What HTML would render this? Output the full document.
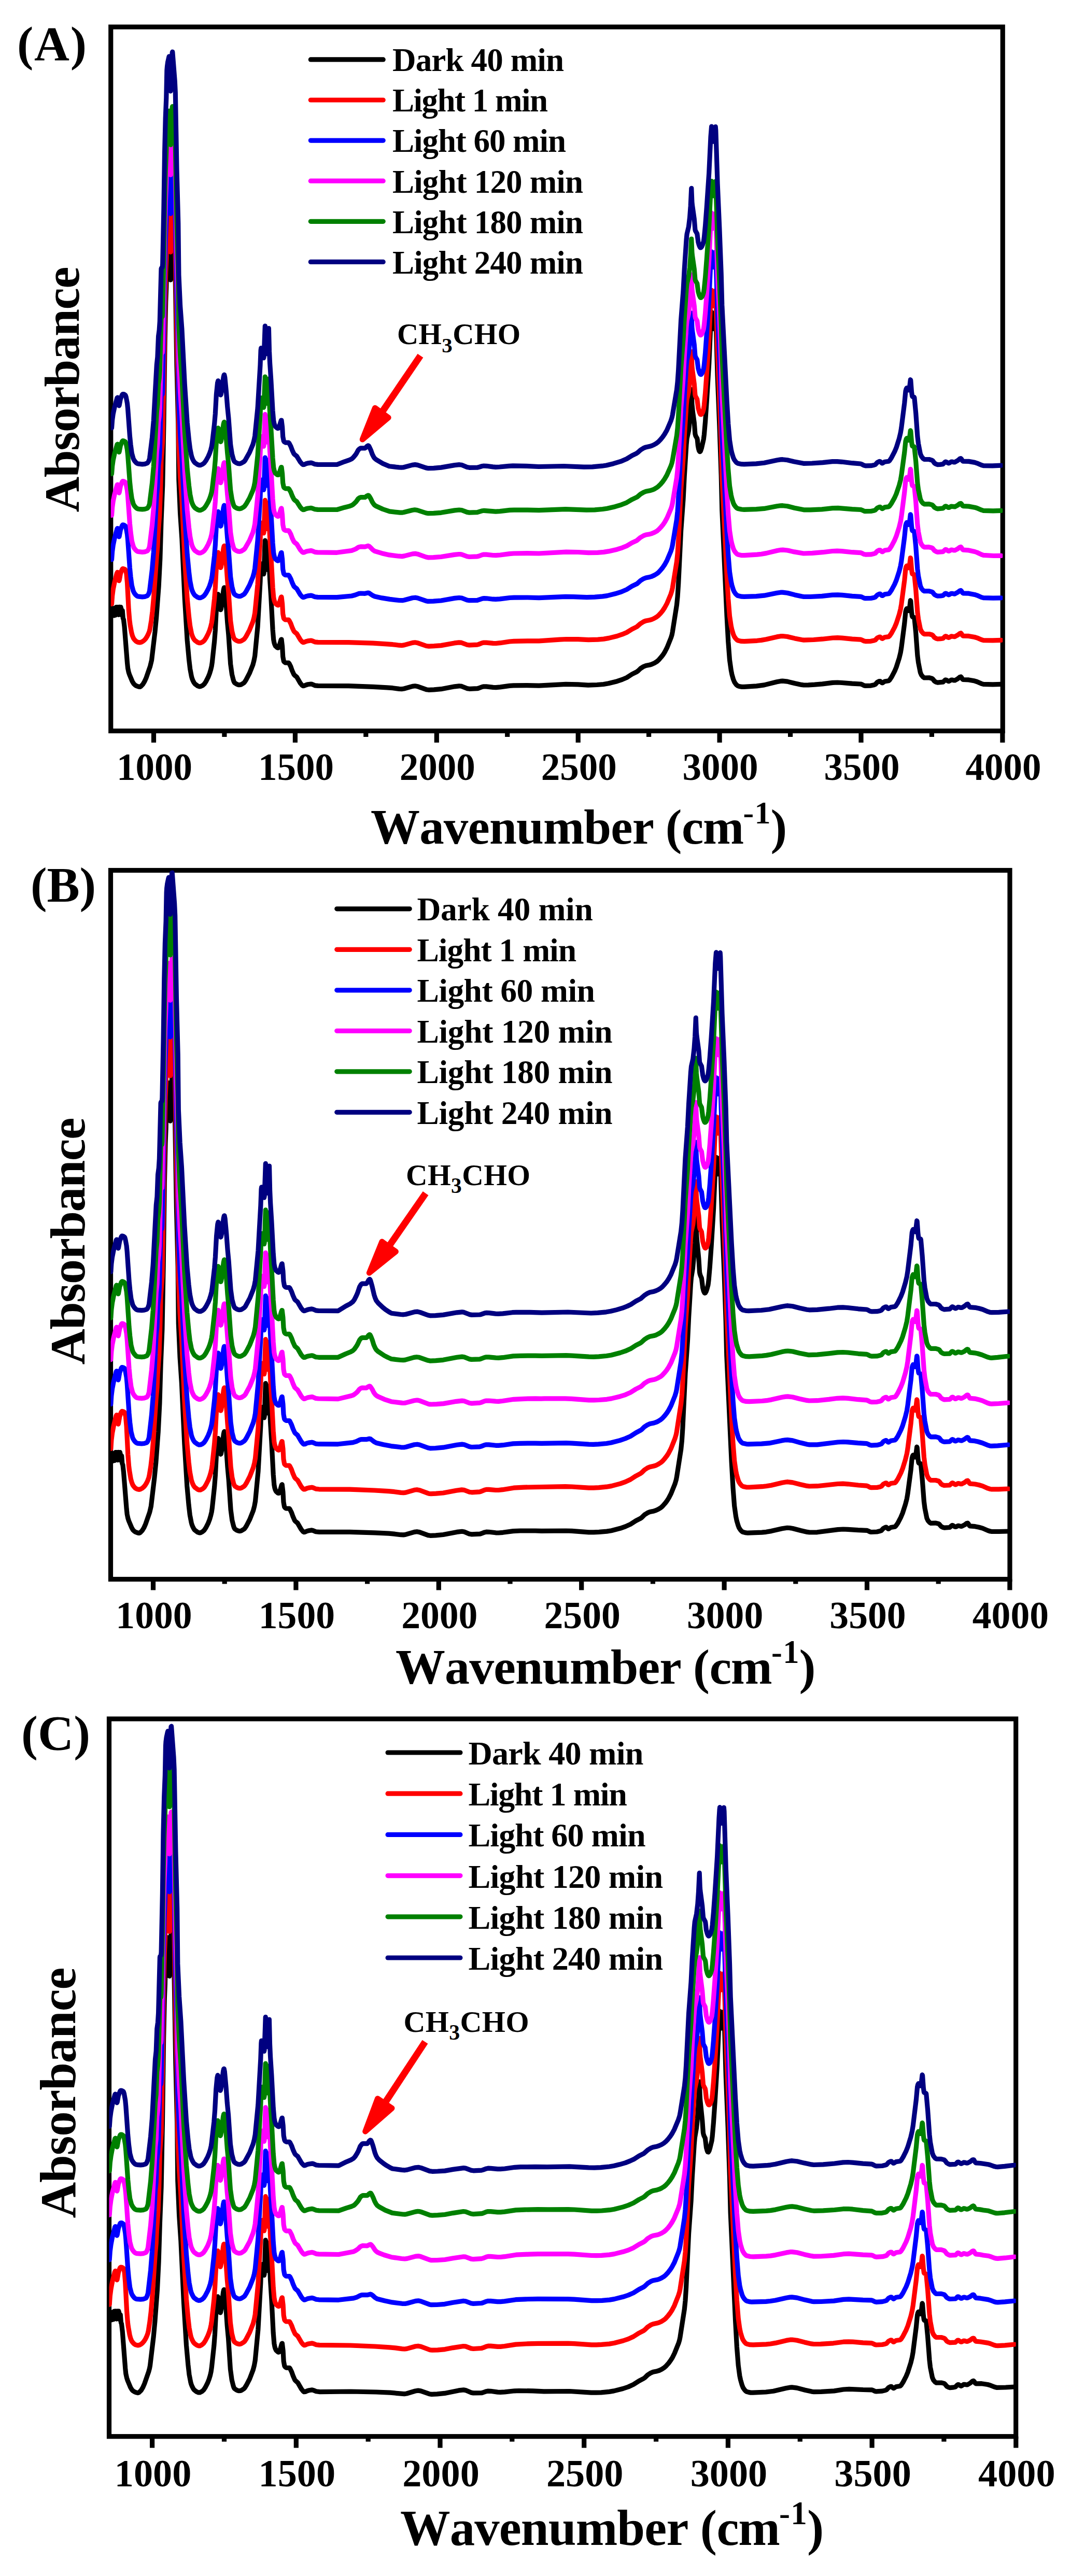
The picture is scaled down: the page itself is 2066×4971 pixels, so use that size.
<!DOCTYPE html><html><head><meta charset="utf-8"><title>FTIR spectra</title><style>html,body{margin:0;padding:0;background:#fff}svg{display:block}</style></head><body><svg width="2066" height="4971" viewBox="0 0 2066 4971">
<rect width="2066" height="4971" fill="#fff"/>
<rect x="213.75" y="52" width="1720.5" height="1358.5" fill="none" stroke="#000" stroke-width="9.2"/>
<clipPath id="clipA"><rect x="213.75" y="52" width="1720.5" height="1358.5"/></clipPath>
<g fill="none" stroke-width="9.2" stroke-linejoin="round" stroke-linecap="round" clip-path="url(#clipA)">
<path d="M215.5 1185.7l.5-.6 .6 .6 .5-.6 1.1-8.9 1.1 11.8 .6-.1 1.1-14.5 .5 1.6 1.1 12.2 1.1-12.9 .5-2.8 1.1 13.5 .6 .2 1.1-13.7 .5 2 1.1 12.8 1.1-12.4 .5-2.6 1.1 13.7 .6 .2 1.1-13.7 .5 2 1.1 13.6 1.1-9.3 .5 .4 1.1 14.6 1.1 2.8 1.7 14.2 5.4 69.3 1.1 10.4 1.6 7.7 1.7 5 5.4 12.9 2.8 4.6 2.2 2 2.1 1.5 3.9 1.6 2.7 .6 1.1 0 1.6-.9 3.8-3.9 3.3-5.4 3.3-7.4 7.6-22.1 2.8-11.5 6.5-55 2.7-28.3 4.4-58.7 2.7-53.7 2.2-73.3 2.7-68.2 2.2-119.4 2.2-159.9 1.6-75.2 1.1-28.1 1.1-57.9 .6-8 1.1-9 2.2-10.6 .5-1.6 .5 .5 1.7 62.8 .5 9.5 .6-5.6 .5-13.5 1.7-52.4 .5-9.9 .5-1 4.4 60.7 1.1 24 2.7 162.3 2.8 112.8 1.1 108.4 2.7 64.6 3.3 49 5.4 115.9 4.9 80.5 3.3 36.2 2.2 18.8 2.7 14.4 1.1 4 1.6 4 2.2 4.2 1.7 2.2 5.4 4 2.8 1.1 2.7-.1 3.8-1.8 3.3-2.8 3.3-4.9 4.3-8.5 2.7-6.8 2.2-7.2 1.7-7.1 1.1-7.2 4.3-40.3 1.7-21.6 2.1-41.9 2.2-23.3 1.1-4.6 .6 .8 1.1 6.9 2.1 19.1 .6 2.6 .5 .6 .6-1.1 1.1-5.5 3.8-31.3 1.1-4.6 .5-.4 1.1 5.8 2.7 30.7 2.2 30.9 2.2 24 3.8 56.2 2.8 20.1 2.7 10.9 1.1 3.1 1.1 1.9 3.8 2.7 2.7 1.1 2.2 .4 2.2-.1 2.2-.7 4.9-3 1.6-1.7 2.8-4.4 6.5-12.5 6.6-16.5 2.1-8.2 1.7-8.9 5.4-56.6 4.9-86.7 1.1-30.2 .6-4.3 1.6 .6 1.1 1 .6 1.4 1.6 17 .5-2.4 2.2-62.4 .6 2.9 2.7 53.3 .5-2.6 2.2-37 1.1-11.9 1.1 46.3 1.1 24.2 2.2 34.6 3.3 62 1.6 19.4 1.1 5.9 1.1 3.5 1.6 3.3 3.3 2.9 1.1 .4 1.1-.1 1.6-3.4 3.3-11.3 .5-1.4 .6-.2 1.6 13.8 1.1 19.4 1.6 8.8 1.1 1.6 1.7 1.3 1.1 .3 5.4 .1 1.1 1.1 3.3 6.5 2.7 7.7 3.3 7.2 1.1 1.3 4.4 3.6 7 12.1 3.3 3.8 1.7 1.2 2.1-.2 3.9-1.7 3.2-.9 6-.8 2.2 .4 5.5 2.4 6 .6 58.9 .2 47.5 1.7 26.8 1.5 10.9 .9 12.5 1.7 4.9 .2 4.4-.6 16.4-4.6 4.9-.6 5.5 1 16.3 5.9 4.4 .6 10.4-.4 13.6-1.2 26.2-4.9 8.7-.9 2.8 .1 2.2 .4 10.3 4.2 4.4 .7 15.3-.6 2.7-.7 6.6-2.5 3.2-.7 4.9 .1 13.1 1.5 5.5 .2 8.2-.7 18-2.5 7.6-.5 25.7-.3 23.5 .5 51.8-2.7 23.5 .5 19.6 1.2 16.9-.6 12.6-1 9.8-1.7 16.4-4.1 9.8-3.3 8.8-3.8 10.3-6.6 9.3-4.7 2.2-1.6 4.9-4.7 6-3.8 4.4-1.7 7.6-1.5 3.8-1.2 4.9-2.2 5-3.1 3.8-3.4 4.3-5 3.9-5 3.2-5.1 4.4-8.6 7.6-19 1.7-5.6 1.1-5.5 8.2-52.1 1.6-16.2 1.6-24.7 4.9-101.8 4.4-61 2.2-44.3 3.8-60.9 1.1-12 3.3-15 2.2-19.7 1.6-23.5 1.6-36.4 1.1 28.5 1.7 16.2 2.7 19.5 1.6 21.3 1.1 4.1 2.8 4.8 .5 2.6 1.1 11.5 1.1 5.7 1.1 3.7 1.1 1.9 .5 .2 .6-.3 .5-.7 2.2-6.5 3.8-16.8 1.1-8.9 2.2-25.3 2.7-39.7 4.4-71.8 3.3-77.5 1.6-21.9 .5 2 .6 5.1 2.2 24.7 .5 .5 .6-2.5 2.7-26.8 .5-2.3 .6 7.6 3.3 114.6 3.8 96.4 3.3 95.6 1.6 67.2 9.3 204.4 2.7 49.7 2.7 35 2.8 19.9 1.6 8 2.7 9.6 2.2 5.3 2.7 3.9 2.2 2.3 1.7 1.1 3.8 1.2 3.8 .6 4.4 0 24-1.5 14.7-2 24.6-6.2 7.1-1.3 3.8-.3 9.3 1 14.7 3.7 12.6 2.6 4.3 .6 8.8-.1 12-.7 15.2-1.3 19.7-2.5 9.3-.4 8.7 .5 19.7 1.7 16.3 .8 2.2 .7 4.4 2.2 2.7 .5 10.4-.3 6-1.3 2.7-1.2 3.8-4.2 3.9-1.9 1.6 0 3.3 3.1 1.1 .2 4.3-2.8 7.7-1.2 1.6-1.3 3.8-5.7 6-11.4 3.3-7.9 5.5-17.2 2.7-10.9 1.6-9.6 6-46.7 2.2-22.7 1.1-4.1 1.1-1.9 1.1 1 1.6 2.9 .6 .2 .5-.7 1.7-5.8 1.6-13.3 .5 1.2 1.7 21.8 1.1 7.6 .5 1 3.3 1.1 .5 1.2 2.8 28.7 3.2 43.8 1.7 13.6 3.8 19.2 2.2 4.9 3.3 3.9 2.1 1.3 9.3-.2 5.5 1.4 1.6 1.2 3.3 4.1 3.3 1.9 2.7 .8 10.4-1 3.8-3.7 1.1-.6 1.6 .3 2.7 1.9 1.7 .6 1.1-.3 3.8-2.3 1.6 0 3.8 .9 1.7-.1 5.4-3 3.9-3.2 2.1-.7 1.1 1 2.2 3.6 1.1 .9 10.9 .4 11.5 2.2 4.4 1.4 8.7 3.8 3.8 1.1 18 .4 16.4-.4" stroke="#000000"/>
<path d="M215.5 1165.6l1.1-15.5 1.6-12.5 2.8-13.9 4.3-17 1.1-2.3 .6-.1 2.1 15.3 .6 1.1 .5-1.3 2.2-12.1 2.2-6.3 1.1-2.4 1.1-1.2 2.2 .3 2.2 1.2 1 1.3 1.7 6.3 1.6 18.2 2.7 51.3 1.7 20.6 1.1 8.6 2.7 15.3 1.6 6 2.2 5.3 2.2 3 2.7 2.6 2.8 1.6 2.7 .7 2.2 .2 2.2-.6 3.2-1.6 2.8-2.2 2.7-3 2.7-4.2 2.2-4.4 2.2-5.5 1.1-4.7 2.7-16.3 2.2-17.9 2.7-30.2 5.5-77.4 1.6-17.9 1.1-23.4 2.7-35.9 1.7-42.2 1.6-63.3 2.7-37.8 2.2-112.5 2.2-147.4 1.6-66 1.1-25.4 1.1-55.7 .6-7.7 1.1-8.6 2.2-10.2 .5-1.5 .5 .4 1.7 60.4 .5 9.1 .6-5.4 .5-12.9 1.7-50.4 .5-9.5 .5-.9 4.4 58.3 1.1 23.1 2.7 156 2.8 108.4 1.1 104.2 2.7 62.1 3.3 47.1 5.4 111.4 4.9 77.5 3.3 34.8 2.2 18.1 2.7 13.8 1.1 3.8 1.6 3.9 2.2 4 1.7 2.1 5.4 3.9 2.8 1 2.7 0 3.8-1.8 3.3-2.7 3.3-4.9 4.3-8.3 2.7-6.6 2.2-7.1 1.7-7 1.1-7 4.3-39.6 1.7-21.2 2.1-41.1 2.2-22.9 1.1-4.5 .6 .8 1.1 6.8 2.1 18.7 .6 2.6 .5 .6 .6-1.1 1.1-5.5 3.8-30.7 1.1-4.4 .5-.4 1.1 5.7 2.7 30 2.2 30.3 2.2 23.6 3.8 55.2 2.8 19.7 2.7 10.7 1.1 3 1.1 1.9 3.8 2.6 2.7 1.1 2.2 .4 2.2-.1 2.2-.6 4.9-3 1.6-1.7 2.8-4.2 6.5-12.2 6.6-16.2 2.1-7.9 1.7-8.8 5.4-55.3 4.9-84.7 1.1-29.5 .6-4.3 1.6 .7 1.1 1 .6 1.3 1.6 16.7 .5-2.4 2.2-61 .6 2.8 2.7 52.2 .5-2.6 2.2-36.1 1.1-11.7 1.1 45.3 1.1 23.6 2.2 33.8 3.3 60.6 1.6 19 1.1 5.7 1.1 3.4 1.6 3.3 3.3 2.7 1.1 .5 1.1-.1 1.6-3.4 3.3-11 .5-1.4 .6-.1 1.6 13.4 1.1 19 1.6 8.6 1.1 1.6 1.7 1.2 1.1 .3 5.4 .1 1.1 1.1 3.3 6.3 2.7 7.5 3.3 7.1 1.1 1.3 4.4 3.5 7 11.8 3.3 3.7 1.7 1.2 2.1-.2 3.9-1.7 3.2-.8 6-.9 2.2 .5 5.5 2.3 6 .6 58.9 .2 47.5 1.6 26.8 1.6 10.9 .9 12.5 1.5 4.9 .3 4.4-.6 16.4-4.5 4.9-.6 5.5 1 16.3 5.7 4.9 .6 9.9-.4 13.6-1.1 25.7-4.7 8.7-1 4.9 .3 10.9 4 4.4 .7 15.3-.8 2.7-.7 6.6-2.6 3.2-.7 4.9 0 13.1 1.3 5.5 .1 8.2-.8 18-2.7 8.2-.6 26.2-.6 22.4 .1 39.8-2.8 13.1-.6 22.4 .1 20.2 1.1 18-.6 11.4-1 9.9-1.7 15.8-3.9 9.8-3.3 8.8-3.7 10.3-6.4 9.3-4.6 7.1-6.2 6-3.7 4.4-1.7 7.6-1.4 3.8-1.1 4.4-2 4.9-2.9 3.3-2.6 4.4-4.6 3.8-4.7 3.8-5.7 4.4-8 7.6-18.2 2.2-7 1.1-5.4 8.2-50.8 1.6-15.8 1.6-24 4.9-99.3 4.4-59.4 2.2-43.3 3.8-59.3 1.1-11.7 3.3-14.6 2.2-19.2 1.6-23 1.6-35.4 1.1 27.8 .6 6.3 3.8 28.4 1.6 20.8 .6 2.6 3.3 6.1 2.1 17.1 2.2 7.9 1.7 3.7 .5 .6 1.1 .2 1.6-1.5 1.7-3.4 1.6-5.4 1.1-8.2 2.2-23.7 2.7-37.2 4.4-67.3 3.3-72.6 1.6-20.5 .5 1.9 .6 4.8 2.2 23 .5 .5 .6-2.3 2.7-25.1 .5-2.2 .6 7.2 3.3 107.3 3.8 90.4 3.3 89.5 1.6 63 9.3 191.4 2.7 46.5 2.7 32.9 2.8 18.6 1.6 7.5 2.7 9 1.7 4 2.7 4 2.7 2.8 2.2 1.2 6 1.3 6 .2 24.6-1.3 8.2-.9 9.2-1.6 20.8-4.9 7.1-1.2 3.8-.2 9.3 1 14.2 3.4 13.1 2.6 4.3 .6 19.1-.6 16.9-1.3 19.7-2.2 9.3-.3 8.7 .5 19.7 2 16.3 1 2.2 .7 4.4 2.1 2.7 .6 10.4-.3 6-1.2 2.7-1.1 3.8-4.1 3.9-1.8 1.6 0 3.3 3 1.1 .3 4.3-2.7 7.7-1.1 1.6-1.3 3.8-5.5 6-11.2 3.3-7.7 5.5-16.9 2.7-10.7 1.6-9.4 6-45.9 2.2-22.2 1.1-4.1 1.1-1.8 1.1 .9 1.6 2.9 .6 .2 .5-.6 1.7-5.8 1.6-13 .5 1.1 1.7 21.5 1.1 7.6 .5 1 3.3 1 .5 1.2 2.8 28.3 3.2 43.1 1.7 13.4 3.8 18.9 2.2 4.9 3.3 3.8 2.1 1.3 9.3-.1 5.5 1.5 1.6 1.1 3.3 4.2 3.3 1.8 2.7 .9 5.4-.3 5-.7 3.8-3.7 1.1-.6 1.6 .3 2.7 1.9 1.7 .5 1.1-.3 3.8-2.2 1.6 0 3.8 .7 1.7 0 5.4-3 3.9-3.1 2.1-.8 1.1 1 2.2 3.6 1.1 .8 10.9 .3 11.5 2.1 4.4 1.3 8.7 3.7 3.8 1.1 18 .3 16.4-.5" stroke="#ff0000"/>
<path d="M215.5 1079.9l1.1-15.3 1.6-12.2 2.8-13.7 4.9-18.2 .5-.8 .6 0 2.1 15 .6 1.1 .5-1.3 2.2-11.9 3.3-8.5 1.1-1.2 1.1 0 1.6 .5 2.2 1.4 .5 .8 1.1 3.4 2.2 12.1 1.1 11.1 3.8 53.9 1.7 17.2 2.2 16.7 2.7 10.2 1.1 2.5 1.6 2.6 2.2 2.8 2.2 1.9 1.6 .8 2.2 .4 6.5 .6 5-.5 4.9-1.6 2.2-3.2 1.6-4.3 .5-2.4 4.9-41 2.8-33 6-111.1 1.6-15.3 1.7-41.3 1.6-12.2 1.1-17.3 2.7-104 .6-1.8 1.6-1.9 .5-6.1 2.2-108.3 1.7-113.2 1.6-67.1 1.6-40.4 1.1-54.7 .6-7.5 1.1-8.5 2.2-10 .5-1.5 .5 .4 1.7 59.3 .5 9 .6-5.3 .5-12.7 1.7-49.5 .5-9.4 .5-.9 4.4 57.3 1.1 22.7 2.7 153.4 2.8 106.5 1.1 102.4 2.7 61.1 3.3 46.3 5.4 109.4 4.9 76.2 3.3 34.1 2.2 17.8 2.7 13.6 1.1 3.8 1.6 3.8 2.2 3.9 1.7 2.1 5.4 3.8 2.8 1 2.7-.1 3.8-1.7 3.3-2.6 3.3-4.6 4.3-7.9 2.7-6.3 2.2-6.8 1.7-6.6 1.1-6.7 4.3-37.7 1.7-20.3 2.1-39 2.2-21.8 1.1-4.3 .6 .7 1.1 6.5 2.1 17.8 .6 2.4 .5 .6 .6-1 1.1-5.2 3.8-29.3 1.1-4.2 .5-.4 1.1 5.4 2.7 28.7 2.2 28.8 2.2 22.5 3.8 52.5 2.8 18.8 2.7 10.2 1.1 2.9 1.1 1.8 3.8 2.5 2.7 1 2.2 .4 2.2-.1 2.2-.7 4.9-2.9 1.6-1.6 2.8-4.2 6.5-12 6.6-15.9 2.1-7.8 1.7-8.7 5.4-54.3 4.9-83.3 1.1-29 .6-4.2 1.6 .6 1.1 1 .6 1.3 1.6 16.4 .5-2.3 2.2-60 .6 2.8 2.7 51.2 .5-2.5 2.2-35.5 1.1-11.5 1.1 44.5 1.1 23.3 2.2 33.2 3.3 59.6 1.6 18.6 1.1 5.6 1.1 3.5 1.6 3.1 3.3 2.8 1.1 .4 1.1-.1 1.6-3.3 3.3-10.8 .5-1.4 .6-.2 1.6 13.2 1.1 18.8 1.6 8.4 1.1 1.5 1.7 1.2 1.1 .3 5.4 .2 1.1 1 3.3 6.2 2.7 7.4 3.3 7 1.1 1.2 4.4 3.5 7 11.6 3.3 3.7 1.7 1.1 2.1-.2 3.9-1.7 3.2-.8 6-.8 2.2 .4 5.5 2.3 5.4 .6 37.2 .2 28.3-2.6 6.6-1.7 6-2.4 2.2-.6 2.7-.3 8.2 .3 6-1.2 2.2 .5 6.5 4.4 4.4 2 13.6 2.9 15.3 2.5 18 2.1 6 .2 3.9-.7 15.8-4.2 5.4-.6 4.4 .8 16.4 5.7 3.8 .7 10.4-.2 14.7-1.2 26.2-4.6 8.7-.9 5 .5 10.3 4 4.4 .7 15.3-.4 9.8-3.2 3.3-.5 4.9 .2 12 1.4 5.5 .2 8.1-.5 19.1-2.4 8.2-.4 26.2-.1 21.9 .6 51.3-2.3 15.2 .3 25.7 1.1 15.3-.5 15.3-1.3 8.7-1.3 15.3-3.8 12-3.7 10.4-4.5 10.3-6.4 8.8-4.3 2.1-1.5 5.5-5 6-3.7 4.4-1.7 7.6-1.6 3.8-1.1 4.4-2 4.9-2.9 3.3-2.6 4.4-4.7 3.8-4.6 3.8-5.6 4.4-7.9 7.6-18 2.2-6.9 1.1-5.3 8.2-49.9 1.6-15.5 1.6-23.6 4.9-97.5 4.4-58.4 2.2-42.4 3.8-58.3 1.1-11.5 3.3-14.3 2.2-18.9 1.6-22.6 1.6-34.8 1.1 27.3 .6 6.2 3.8 27.8 1.6 20.4 .6 2.6 3.3 5.8 2.1 16.8 2.2 7.7 1.7 3.4 .5 .5 1.1 0 1.6-1.8 1.7-3.6 1.6-5.4 1.1-8.1 2.2-23.3 2.7-36.7 4.4-66.2 3.3-71.4 1.6-20.2 .5 1.8 .6 4.7 2.2 22.7 .5 .5 .6-2.4 2.7-24.7 .5-2.1 .6 7.1 3.3 105.4 3.8 88.8 3.3 88 1.6 61.9 9.3 188.1 2.7 45.7 2.7 32.3 2.8 18.3 1.6 7.3 2.7 8.8 1.7 3.9 2.7 3.9 2.2 2.2 2.2 1.5 7.1 1.6 4.9 .2 23.4-.7 15.3-1.5 24.6-4.9 7.1-1.1 3.8-.1 9.3 1.2 14.2 3.6 13.1 2.9 4.3 .7 12.6 0 22.4-1.1 20.2-2.3 10.3-.3 8.8 .6 19.1 1.9 16.3 1 2.2 .7 4.4 2.2 2.7 .5 10.4-.2 6-1.2 2.7-1.1 3.8-4.1 3.9-1.9 1.6 0 3.3 3.1 1.1 .2 4.3-2.7 7.7-1.1 1.6-1.2 3.8-5.6 6-11.3 3.3-7.7 5.5-17 2.7-10.8 1.6-9.4 6-46.1 2.2-22.4 1.1-4.1 1.1-1.8 1.1 1 1.6 2.8 .6 .3 .5-.7 1.7-5.7 1.6-13.2 .5 1.2 1.7 21.6 1.1 7.6 .5 1 3.3 1 .5 1.3 2.8 28.4 3.2 43.3 1.7 13.5 3.8 19 2.2 4.9 3.3 3.9 2.1 1.2 9.3 0 5.5 1.4 1.6 1.2 3.3 4.2 3.3 1.8 2.7 .8 6-.2 4.4-.6 3.8-3.7 1.1-.6 1.6 .4 2.7 1.8 1.7 .6 1.1-.3 3.8-2.2 1.6 0 3.8 .8 1.7 0 5.4-3 3.9-3.1 2.1-.7 1.1 1 2.2 3.6 1.1 .9 10.9 .4 11.5 2.2 4.4 1.4 8.7 3.8 3.8 1.1 18.6 .5 15.8-.4" stroke="#0000ff"/>
<path d="M215.5 994.5l1.1-15 1.6-12.1 2.8-13.4 4.9-17.9 .5-.8 .6-.1 2.1 14.8 .6 1.1 .5-1.3 2.2-11.7 3.3-8.4 1.1-1.1 1.1 0 1.6 .5 2.2 1.3 .5 .8 1.1 3.4 2.2 11.9 1.1 10.9 3.8 53 1.7 17 2.2 16.5 2.7 9.9 1.1 2.6 1.6 2.5 2.2 2.7 2.2 1.9 1.6 .8 2.2 .4 6.5 .6 5-.5 4.9-1.6 2.2-3.1 1.6-4.2 .5-2.4 4.9-40.4 2.8-32.4 6-109.4 1.6-15 1.7-40.7 1.6-12 1.1-17 2.7-102.4 .6-1.9 1.6-1.8 .5-6 2.2-106.6 1.7-111.4 1.6-66.1 1.6-39.8 1.1-53.8 .6-7.5 1.1-8.3 2.2-9.9 .5-1.4 .5 .4 1.7 58.4 .5 8.8 .6-5.2 .5-12.5 1.7-48.7 .5-9.3 .5-.8 4.4 56.4 1.1 22.3 2.7 151 2.8 104.9 1.1 100.8 2.7 60.1 3.3 45.5 5.4 107.8 4.9 75 3.3 33.6 2.2 17.5 2.7 13.4 1.1 3.7 1.6 3.8 2.2 3.8 1.7 2.1 5.4 3.7 2.8 1 2.7-.1 3.8-1.7 3.3-2.5 3.3-4.5 4.3-7.8 2.7-6.2 2.2-6.5 1.7-6.5 1.1-6.6 4.3-36.9 1.7-19.8 2.1-38.2 2.2-21.4 1.1-4.2 .6 .7 1.1 6.4 2.1 17.4 .6 2.4 .5 .5 .6-.9 1.1-5.1 3.8-28.6 1.1-4.2 .5-.3 1.1 5.2 2.7 28 2.2 28.3 2.2 22 3.8 51.4 2.8 18.3 2.7 10 1.1 2.8 1.1 1.8 3.8 2.4 2.7 1.1 2.2 .4 2.2-.1 2.2-.7 4.9-3 2.2-2.3 8.7-15.2 6.6-15.7 2.1-7.8 1.7-8.5 5.4-53.7 4.9-82.3 1.1-28.7 .6-4.1 1.6 .6 1.1 1 .6 1.2 1.6 16.3 .5-2.3 2.2-59.3 .6 2.8 2.7 50.6 .5-2.5 2.2-35.1 1.1-11.4 1.1 44.1 1.1 22.9 2.2 32.9 3.3 58.8 1.6 18.5 1.1 5.5 1.1 3.4 1.6 3.1 3.3 2.7 1.1 .4 1.1-.1 1.6-3.2 3.3-10.7 .5-1.4 .6-.1 1.6 13 1.1 18.5 1.6 8.3 1.1 1.6 1.7 1.1 1.1 .4 5.4 .1 1.1 1 3.3 6.1 2.7 7.4 3.3 6.9 1.1 1.2 4.4 3.4 7 11.4 3.3 3.7 1.7 1.1 2.1-.2 3.9-1.6 3.2-.8 6-.9 2.2 .5 5.5 2.2 4.9 .5 37.7 .5 28.3-3.8 6.6-2.5 2.2-1.1 3.8-2.6 2.2-.9 2.7-.5 8.2 .3 6-1.8 2.2 .8 2.7 2.4 3.8 4.1 4.4 3 13.6 4 14.2 3.2 18.6 2.3 6 .4 4.4-.7 15.8-4 5.4-.5 4.4 .8 16.4 5.8 3.8 .8 10.4-.2 14.7-1.1 25.7-4.1 8.7-.9 2.7 0 2.8 .5 10.3 3.8 4.4 .7 15.3-.7 2.7-.6 6.6-2.4 3.2-.7 4.9 .1 13.1 1.3 5.5 .1 8.2-.6 18-2.4 8.2-.6 26.2-.3 22.4 .3 52.4-2.8 22.9 .3 20.2 1.2 17.4-.4 12-.9 9.3-1.5 16.4-3.7 9.8-3.1 8.8-3.6 10.3-6.1 9.3-4.3 7.1-6 6-3.5 4.4-1.6 7.6-1.3 3.8-1.1 4.9-2.1 5-2.8 3.8-3.3 4.3-4.6 3.9-4.7 3.2-4.9 4.4-8 7.6-17.9 1.7-5.3 1.1-5.2 8.2-49 1.6-15.3 1.6-23.2 4.9-96 4.4-57.5 2.2-41.8 3.8-57.4 1.1-11.3 3.3-14.1 2.2-18.6 1.6-22.2 1.6-34.3 1.1 26.9 .6 6.2 3.8 27.5 1.6 20.1 .6 2.6 3.3 5.8 2.1 16.6 1.7 5.9 1.6 3.9 1.1 1.1 .6 0 1.6-1.5 1.6-3.5 2.2-6.9 1.1-8.1 2.2-23.1 2.7-36.2 4.4-65.5 3.3-70.8 1.6-19.9 .5 1.8 .6 4.7 2.2 22.5 .5 .5 .6-2.3 2.7-24.5 .5-2.1 .6 7 3.3 104.6 3.8 88.1 3.3 87.3 1.6 61.4 9.3 186.7 2.7 45.3 2.7 32.1 2.8 18.1 1.6 7.3 2.7 8.8 1.7 3.9 2.7 3.9 2.7 2.8 2.2 1.2 6 1.3 6 .1 24.6-1.6 8.2-.9 9.2-1.6 21.3-5.1 7.1-1.2 3.8-.2 8.8 .9 13.1 2.9 18 3.1 16.9-.6 20.2-1.7 18.6-2.2 9.2-.4 9.3 .5 20.2 2.1 15.8 .9 2.2 .8 4.4 2.2 2.7 .5 10.4-.2 6-1.3 2.7-1.1 3.8-4.1 3.9-1.9 1.6 0 3.3 3.1 1.1 .2 4.3-2.8 7.7-1.1 1.6-1.3 3.8-5.7 6-11.4 3.3-7.9 5.5-17.2 2.7-11 1.6-9.6 6-46.9 2.2-22.8 1.1-4.2 1.1-1.8 1.1 .9 1.6 3 .6 .2 .5-.6 1.7-5.9 1.6-13.4 .5 1.2 1.7 22 1.1 7.7 .5 1 3.3 1.1 .5 1.2 2.8 28.9 3.2 44.1 1.7 13.8 3.8 19.3 2.2 5 3.3 3.9 2.1 1.3 8.8-.1 5.4 1.3 1.7 .8 3.8 4.8 3.8 2.2 2.7 .6 9.9-.8 3.8-3.6 1.1-.6 1.6 .4 2.7 2 1.7 .6 1.1-.2 3.8-2.2 1.6 .1 3.8 .9 1.7 0 5.4-2.8 3.9-3.1 2.1-.6 1.1 1 2.2 3.7 1.1 1 10.9 .7 11.5 2.6 4.4 1.5 8.7 4.1 3.8 1.3 19.7 1.1 14.7-.1" stroke="#ff00ff"/>
<path d="M215.5 914.4l1.1-14.5 1.6-11.6 2.8-13 4.9-17.3 .5-.8 .6-.1 2.1 14.3 .6 1.1 .5-1.3 2.2-11.3 3.3-8.1 1.1-1.1 1.1 0 1.6 .5 2.2 1.3 .5 .7 1.1 3.3 2.2 11.5 1.1 10.5 3.8 51.3 1.7 16.4 2.2 15.9 2.7 9.7 1.1 2.4 1.6 2.5 2.2 2.6 2.2 1.8 1.6 .8 2.2 .4 6.5 .5 5-.5 4.9-1.5 2.2-3 1.6-4.1 .5-2.3 4.9-39 2.8-31.3 6-105.8 1.6-14.5 1.7-39.3 1.6-11.6 1.1-16.4 2.7-99 .6-1.7 1.6-1.8 .5-5.8 2.2-103.1 1.7-107.6 1.6-63.9 1.6-38.5 1.1-51.9 .6-7.2 1.1-8.1 2.2-9.5 .5-1.4 .5 .3 1.7 56.5 .5 8.6 .6-5.1 .5-12.1 1.7-47.1 .5-8.9 .5-.9 4.4 54.6 1.1 21.6 2.7 145.8 2.8 101.4 1.1 97.4 2.7 58.1 3.3 44 5.4 104.2 4.9 72.4 3.3 32.5 2.2 16.9 2.7 13 1.1 3.5 1.6 3.7 2.2 3.7 1.7 2 5.4 3.6 2.8 .9 2.7 0 3.8-1.7 3.3-2.4 3.3-4.4 4.3-7.6 2.7-6 2.2-6.4 1.7-6.4 1.1-6.4 4.3-36 1.7-19.3 2.1-37.2 2.2-20.8 1.1-4.1 .6 .7 1.1 6.1 2.1 17.1 .6 2.3 .5 .5 .6-.9 1.1-5 3.8-27.9 1.1-4.1 .5-.3 1.1 5.1 2.7 27.4 2.2 27.5 2.2 21.5 3.8 50.1 2.8 17.8 2.7 9.8 1.1 2.7 1.1 1.7 3.8 2.4 2.7 1 2.2 .4 2.2-.1 2.2-.7 4.9-2.8 1.6-1.5 2.8-4 6.5-11.4 6.6-15.1 2.1-7.5 1.7-8.2 5.4-51.7 4.9-79.3 1.1-27.6 .6-4 1.6 .6 1.1 .9 .6 1.2 1.6 15.7 .5-2.2 2.2-57.1 .6 2.6 2.7 48.8 .5-2.4 2.2-33.8 1.1-11 1.1 42.4 1.1 22.2 2.2 31.6 3.3 56.7 1.6 17.8 1.1 5.3 1.1 3.3 1.6 3 3.3 2.6 1.1 .4 1.1-.1 1.6-3.2 3.3-10.3 .5-1.3 .6-.1 1.6 12.5 1.1 17.9 1.6 8 1.1 1.5 1.7 1.1 1.1 .3 5.4 .1 1.1 1 3.3 5.9 2.7 7.1 3.3 6.6 1.1 1.2 4.4 3.3 7 11 3.3 3.5 1.7 1.1 2.1-.2 3.9-1.6 3.2-.8 6-.7 2.2 .4 5.5 2.1 5.4 .6 37.2 .1 14.7-4.3 9.3-2.3 4.3-1.6 2.8-1.7 3.8-3.5 2.2-2.2 3.8-5.4 2.2-1.7 2.7-1.2 8.2 .1 4.4-3.1 1.6-.7 1.1 .3 1.6 2 2.8 4.7 2.7 5.8 2.7 4.1 1.6 1.8 3.3 2.2 12.6 5.7 13.1 4.4 20.2 2.2 3.8 .1 2.7-.4 16.9-4.3 5-.7 4.9 .7 16.9 5.5 4.4 .7 10.3-.3 14.2-1.1 26.2-4.4 8.7-.9 5 .5 10.3 3.9 4.4 .7 15.3-.4 9.8-3 3.3-.4 22.4 1.8 8.1-.5 19.1-2.2 8.2-.3 26.2 0 21.9 .6 51.3-2 40.4 1.5 15.8-.4 15.3-1.3 8.7-1.3 15.3-3.5 12-3.6 10.4-4.2 10.3-6.1 8.8-4.1 2.1-1.4 5.5-4.8 6-3.5 4.4-1.7 7.6-1.5 3.8-1.1 4.4-1.8 4.9-2.8 3.3-2.5 4.4-4.4 3.8-4.5 3.8-5.3 4.4-7.5 7.6-17.2 2.2-6.6 1.1-5 8.2-47.7 1.6-14.7 1.6-22.6 4.9-92.9 4.4-55.7 2.2-40.5 3.8-55.6 1.1-11 3.3-13.7 2.2-18 1.6-21.5 1.6-33.2 1.1 26 .6 6 3.8 26.5 1.6 19.4 .6 2.5 3.3 5.6 2.1 16 2.2 7.3 1.7 3.4 .5 .6 1.1 .1 1.6-1.5 1.7-3.3 1.6-5 1.1-7.7 2.2-22.2 2.7-34.9 4.4-63.1 3.3-68 1.6-19.2 .5 1.7 .6 4.5 2.2 21.6 .5 .5 .6-2.3 2.7-23.5 .5-2 .6 6.7 3.3 100.4 3.8 84.6 3.3 83.8 1.6 58.9 9.3 179.2 2.7 43.4 2.7 30.8 2.8 17.4 1.6 7 2.7 8.4 1.7 3.7 2.7 3.7 2.2 2.2 2.2 1.3 7.1 1.5 4.9 .3 23.4-.6 15.3-1.3 24.6-4.7 7.1-.9 3.8-.1 9.3 1.1 13.6 3.4 18 3.6 12.6 .1 22.4-1 20.7-2.3 10.4-.3 27.3 2.3 16.3 .9 2.2 .6 4.4 2.1 2.2 .5 10.9-.2 6-1.2 2.7-1.1 3.8-4 4.4-1.9 1.1 .1 3.3 3 1.1 .2 4.3-2.7 7.7-1 1.6-1.2 3.8-5.4 6-10.8 3.3-7.5 5.5-16.3 2.7-10.4 1.6-9 6-44.4 2.2-21.5 1.1-3.9 1.1-1.8 1.1 1 1.6 2.7 .6 .2 .5-.6 1.7-5.5 1.6-12.7 .5 1.2 1.7 20.7 1.1 7.3 .5 .9 3.3 1 .5 1.2 2.8 27.3 3.2 41.6 1.7 13 3.8 18.2 2.2 4.7 3.3 3.7 2.1 1.2 9.3-.1 5.5 1.4 1.6 1.1 3.3 4 3.3 1.8 2.7 .8 10.4-.9 3.8-3.5 1.1-.6 1.6 .4 2.7 1.8 1.7 .5 1.1-.3 3.8-2.1 7.1 .8 5.4-2.9 3.9-3 2.1-.6 1.1 .9 2.2 3.5 1.1 .8 10.9 .5 11.5 2.1 4.4 1.3 8.7 3.7 3.8 1.1 18.6 .5 15.8-.4" stroke="#008000"/>
<path d="M215.5 825.8l1.1-14.9 1.6-11.9 2.8-13.3 4.9-17.7 .5-.8 .6-.1 2.1 14.7 .6 1.1 .5-1.3 2.2-11.6 3.3-8.3 1.1-1.1 1.1-.1 1.6 .5 2.2 1.4 .5 .8 1.1 3.3 2.2 11.8 1.1 10.8 3.8 52.4 1.7 16.8 2.2 16.3 2.7 9.9 1.1 2.5 1.6 2.5 2.2 2.7 2.2 1.9 1.6 .7 2.2 .4 6.5 .6 5-.5 4.9-1.6 2.2-3.1 1.6-4.1 .5-2.4 4.9-39.9 2.8-32.1 6-108.2 1.6-14.9 1.7-40.2 1.6-11.9 1.1-16.8 2.7-101.3 .6-1.8 1.6-1.8 .5-5.9 2.2-105.5 1.7-110.2 1.6-65.4 1.6-39.3 1.1-53.2 .6-7.4 1.1-8.3 2.2-9.7 .5-1.5 .5 .4 1.7 57.8 .5 8.8 .6-5.2 .5-12.3 1.7-48.3 .5-9.1 .5-.9 4.4 55.8 1.1 22.1 2.7 149.3 2.8 103.8 1.1 99.7 2.7 59.4 3.3 45.1 5.4 106.6 4.9 74.1 3.3 33.3 2.2 17.3 2.7 13.3 1.1 3.6 1.6 3.8 2.2 3.8 1.7 2 5.4 3.7 2.8 1 2.7-.1 3.8-1.7 3.3-2.5 3.3-4.5 4.3-7.8 2.7-6.2 2.2-6.5 1.7-6.5 1.1-6.6 4.3-36.9 1.7-19.8 2.1-38.2 2.2-21.4 1.1-4.2 .6 .7 1.1 6.4 2.1 17.4 .6 2.4 .5 .5 .6-.9 1.1-5.1 3.8-28.6 1.1-4.2 .5-.3 1.1 5.2 2.7 28 2.2 28.3 2.2 22 3.8 51.4 2.8 18.3 2.7 10 1.1 2.8 1.1 1.8 3.8 2.4 2.7 1.1 2.2 .4 2.2-.2 2.2-.7 4.9-2.9 2.2-2.3 8.7-15.4 6.6-15.7 2.1-7.8 1.7-8.5 5.4-54 4.9-82.6 1.1-28.9 .6-4.1 1.6 .6 1.1 1 .6 1.2 1.6 16.3 .5-2.2 2.2-59.6 .6 2.8 2.7 50.8 .5-2.4 2.2-35.3 1.1-11.4 1.1 44.2 1.1 23.1 2.2 32.9 3.3 59.1 1.6 18.6 1.1 5.5 1.1 3.4 1.6 3.2 3.3 2.7 1.1 .4 1.1-.1 1.6-3.3 3.3-10.7 .5-1.4 .6-.1 1.6 13.1 1.1 18.6 1.6 8.3 1.1 1.6 1.7 1.1 1.1 .4 5.4 .1 1.1 1 3.3 6.2 2.7 7.3 3.3 7 1.1 1.2 4.4 3.4 7 11.5 3.3 3.7 1.7 1.1 2.1-.2 3.9-1.6 3.2-.9 6-.8 2.2 .5 5.5 2.2 5.4 .6 37.2 .1 14.7-5.7 9.3-3.1 4.3-2.1 2.8-2.3 3.8-4.5 2.2-3 3.8-7.1 2.2-2.3 2.7-1.6 8.2 .1 1.6-1.2 2.8-2.9 1.6-1 1.1 .4 1.6 2.7 2.8 6.1 2.7 7.6 2.7 5.3 1.6 2.4 3.3 2.8 12.6 7.3 12.5 5.3 18.6 2.2 4.9 .3 3.3-.2 17.4-4.6 5.5-.8 4.9 .8 16.4 5.5 4.4 .8 10.3-.4 14.2-1.2 26.2-4.5 9.3-.9 4.4 .6 10.3 4.2 4.4 .8 15.3-.1 2.7-.6 6.6-2.1 3.2-.5 5.5 .3 12 1.6 5.5 .4 7.6-.3 17.5-1.7 8.1-.4 26.2 .5 23.5 1.1 48.6-1 38.7 1.7 16.4-.3 18.6-1.7 8.2-1.2 13.6-3.3 14.2-4.3 11.5-4.9 10.3-6.4 8.8-4.3 2.1-1.5 5.5-5 6-3.7 4.4-1.7 7.6-1.6 3.8-1.2 4.4-2 4.9-2.9 3.3-2.6 4.4-4.6 3.8-4.6 3.8-5.5 4.4-7.7 7.6-17.7 2.2-6.8 1.1-5.1 8.2-48.9 1.6-15.1 1.6-23.1 4.9-95.1 4.4-57 2.2-41.5 3.8-56.9 1.1-11.2 3.3-14 2.2-18.5 1.6-22 1.6-34 1.1 26.6 .6 6.1 3.8 27 1.6 19.9 .6 2.5 3.3 5.7 2.1 16.3 1.7 5.8 1.6 3.8 1.1 1 .6-.1 1.6-1.6 1.6-3.5 2.2-6.9 1.1-8 2.2-22.9 2.7-36 4.4-65 3.3-70.1 1.6-19.8 .5 1.8 .6 4.6 2.2 22.2 .5 .4 .6-2.3 2.7-24.3 .5-2 .6 6.9 3.3 103.3 3.8 87.1 3.3 86.2 1.6 60.7 9.3 184.4 2.7 44.7 2.7 31.6 2.8 17.9 1.6 7.2 2.7 8.6 1.7 3.8 2.7 3.8 2.2 2.2 2.2 1.3 7.1 1.5 4.9 .1 23.4-.9 15.3-1.7 24.6-5.2 7.1-1.1 3.8-.2 9.3 1.1 12.5 3 18.6 3.5 16.4-.3 20.7-1.4 18.6-1.9 9.2-.1 9.3 .7 20.2 2.4 15.8 1.3 2.2 .8 4.4 2.3 2.7 .7 10.4-.1 6-1.2 2.7-1 3.8-4.2 3.9-1.9 1.6 .1 3.3 3.2 1.1 .3 4.3-2.8 7.7-.9 1.6-1.3 3.8-5.8 6-11.5 3.3-7.9 5.5-17.5 2.7-11.1 1.6-9.7 6-47.7 2.2-23.1 1.1-4.2 1.1-1.9 1.1 1.1 1.6 2.9 .6 .3 .5-.6 1.7-6 1.6-13.6 .5 1.3 1.7 22.3 1.1 7.9 .5 1.1 3.3 1.1 .5 1.3 2.8 29.5 3.2 44.9 1.7 14 3.8 19.7 2.2 5.1 3.3 4.1 2.1 1.4 9.3 .1 5.5 1.6 1.6 1.2 3.3 4.4 3.3 2 2.7 .9 4.9-.2 5.5-.8 3.8-3.9 1.1-.6 1.6 .3 2.7 1.9 1.7 .5 1.1-.3 3.8-2.4 1.6 0 3.8 .8 1.7-.1 5.4-3.1 3.9-3.3 2.1-.8 1.1 1 2.2 3.7 1.1 .9 10.9 .2 11.5 2 4.4 1.4 8.7 3.7 3.8 1.1 17.5 .2 16.9-.7" stroke="#000080"/>
</g>
<rect x="291.9" y="1410.5" width="9.2" height="22.5" fill="#000"/>
<text x="298.0" y="1504.5" font-size="73" text-anchor="middle" font-family="Liberation Serif, serif" font-weight="bold" style="font-kerning:none">1000</text>
<rect x="564.8" y="1410.5" width="9.2" height="22.5" fill="#000"/>
<text x="570.9" y="1504.5" font-size="73" text-anchor="middle" font-family="Liberation Serif, serif" font-weight="bold" style="font-kerning:none">1500</text>
<rect x="837.7" y="1410.5" width="9.2" height="22.5" fill="#000"/>
<text x="843.8" y="1504.5" font-size="73" text-anchor="middle" font-family="Liberation Serif, serif" font-weight="bold" style="font-kerning:none">2000</text>
<rect x="1110.6" y="1410.5" width="9.2" height="22.5" fill="#000"/>
<text x="1116.7" y="1504.5" font-size="73" text-anchor="middle" font-family="Liberation Serif, serif" font-weight="bold" style="font-kerning:none">2500</text>
<rect x="1383.5" y="1410.5" width="9.2" height="22.5" fill="#000"/>
<text x="1389.6" y="1504.5" font-size="73" text-anchor="middle" font-family="Liberation Serif, serif" font-weight="bold" style="font-kerning:none">3000</text>
<rect x="1656.4" y="1410.5" width="9.2" height="22.5" fill="#000"/>
<text x="1662.5" y="1504.5" font-size="73" text-anchor="middle" font-family="Liberation Serif, serif" font-weight="bold" style="font-kerning:none">3500</text>
<rect x="1929.3" y="1410.5" width="9.2" height="22.5" fill="#000"/>
<text x="1935.4" y="1504.5" font-size="73" text-anchor="middle" font-family="Liberation Serif, serif" font-weight="bold" style="font-kerning:none">4000</text>
<rect x="428.3" y="1410.5" width="9.2" height="11.5" fill="#000"/>
<rect x="701.2" y="1410.5" width="9.2" height="11.5" fill="#000"/>
<rect x="974.1" y="1410.5" width="9.2" height="11.5" fill="#000"/>
<rect x="1247.0" y="1410.5" width="9.2" height="11.5" fill="#000"/>
<rect x="1520.0" y="1410.5" width="9.2" height="11.5" fill="#000"/>
<rect x="1792.8" y="1410.5" width="9.2" height="11.5" fill="#000"/>
<text x="715.0" y="1628.4" font-size="95.0" font-family="Liberation Serif, serif" font-weight="bold" style="font-kerning:none" textLength="546.8" lengthAdjust="spacing">Wavenumber</text>
<text x="1283.8 1315.0 1356.0" y="1628.4" font-size="95.0" font-family="Liberation Serif, serif" font-weight="bold" style="font-kerning:none">(cm</text>
<text x="1433.5" y="1588.8" font-size="62.0" font-family="Liberation Serif, serif" font-weight="bold" style="font-kerning:none" textLength="53.0" lengthAdjust="spacing">-1</text>
<text x="1486.5" y="1628.4" font-size="95.0" font-family="Liberation Serif, serif" font-weight="bold" style="font-kerning:none" textLength="31.6" lengthAdjust="spacing">)</text>
<text transform="translate(152.3,751.5) rotate(-90)" font-size="95" text-anchor="middle" font-family="Liberation Serif, serif" font-weight="bold" style="font-kerning:none" textLength="474" lengthAdjust="spacing">Absorbance</text>
<text x="33" y="116" font-size="94" font-family="Liberation Serif, serif" font-weight="bold" style="font-kerning:none" textLength="134" lengthAdjust="spacing">(A)</text>
<line x1="599.3" y1="114.9" x2="739.2" y2="114.9" stroke="#000000" stroke-width="9.2" stroke-linecap="round"/>
<text x="757" y="137.2" font-size="63" font-family="Liberation Serif, serif" font-weight="bold" style="font-kerning:none" textLength="331" lengthAdjust="spacing">Dark 40 min</text>
<line x1="599.3" y1="193.0" x2="739.2" y2="193.0" stroke="#ff0000" stroke-width="9.2" stroke-linecap="round"/>
<text x="757" y="215.3" font-size="63" font-family="Liberation Serif, serif" font-weight="bold" style="font-kerning:none" textLength="300" lengthAdjust="spacing">Light 1 min</text>
<line x1="599.3" y1="271.1" x2="739.2" y2="271.1" stroke="#0000ff" stroke-width="9.2" stroke-linecap="round"/>
<text x="757" y="293.4" font-size="63" font-family="Liberation Serif, serif" font-weight="bold" style="font-kerning:none" textLength="335" lengthAdjust="spacing">Light 60 min</text>
<line x1="599.3" y1="349.2" x2="739.2" y2="349.2" stroke="#ff00ff" stroke-width="9.2" stroke-linecap="round"/>
<text x="757" y="371.5" font-size="63" font-family="Liberation Serif, serif" font-weight="bold" style="font-kerning:none" textLength="368" lengthAdjust="spacing">Light 120 min</text>
<line x1="599.3" y1="427.3" x2="739.2" y2="427.3" stroke="#008000" stroke-width="9.2" stroke-linecap="round"/>
<text x="757" y="449.6" font-size="63" font-family="Liberation Serif, serif" font-weight="bold" style="font-kerning:none" textLength="368" lengthAdjust="spacing">Light 180 min</text>
<line x1="599.3" y1="505.4" x2="739.2" y2="505.4" stroke="#000080" stroke-width="9.2" stroke-linecap="round"/>
<text x="757" y="527.7" font-size="63" font-family="Liberation Serif, serif" font-weight="bold" style="font-kerning:none" textLength="368" lengthAdjust="spacing">Light 240 min</text>
<text x="766" y="664.4" font-size="57" font-family="Liberation Serif, serif" font-weight="bold" style="font-kerning:none" textLength="238" lengthAdjust="spacing">CH<tspan font-size="41.0" dy="15.4">3</tspan><tspan dy="-15.4">CHO</tspan></text>
<line x1="811" y1="686.4" x2="731.0" y2="804.0" stroke="#f00" stroke-width="13" stroke-linecap="butt"/>
<polygon points="699.2,848.1 723.4,787.3 749.2,805.9" fill="#f00" stroke="#f00" stroke-width="11" stroke-linejoin="round"/>
<rect x="213.5" y="1679.5" width="1734.5" height="1368.0" fill="none" stroke="#000" stroke-width="9.2"/>
<clipPath id="clipB"><rect x="213.5" y="1679.5" width="1734.5" height="1368.0"/></clipPath>
<g fill="none" stroke-width="9.2" stroke-linejoin="round" stroke-linecap="round" clip-path="url(#clipB)">
<path d="M213.8 2817.0l.5-.6 .6 .5 .5-.6 1.1-8.9 1.1 11.9 .6-.1 1.1-14.7 .5 1.7 1.1 12.3 1.1-13.1 .6-2.8 1.1 13.6 .5 .3 1.1-13.9 .6 2 1.1 13 1.1-12.6 .5-2.6 1.1 13.8 .6 .3 1.1-13.9 .5 2 1.1 13.8 1.1-9.5 .6 .4 1.1 14.8 1.1 2.9 1.6 14.3 5.6 70.3 1.1 10.5 1.6 7.7 1.7 5.2 5.5 13 2.7 4.7 2.2 2 2.2 1.5 3.9 1.6 2.7 .7 1.1-.1 1.7-.9 3.8-3.9 3.4-5.5 3.3-7.5 7.7-22.3 2.7-11.7 6.6-55.7 2.8-28.7 4.4-59.4 2.7-54.4 2.2-74.2 2.8-69.1 2.2-120.9 2.2-161.9 1.7-76.2 1.1-28.4 1.1-58.6 .5-8.2 1.1-9 2.2-10.8 .6-1.6 .5 .5 1.7 63.6 .5 9.6 .6-5.7 .5-13.6 1.7-53.1 .5-10 .6-1 4.4 61.4 1.1 24.4 2.7 164.3 2.8 114.2 1.1 109.7 2.8 65.5 3.3 49.6 5.5 117.3 4.9 81.6 3.3 36.6 2.2 19.1 2.8 14.6 1.1 4 1.6 4.1 2.2 4.2 1.7 2.2 5.5 4.1 2.8 1.1 2.7 0 3.9-1.9 3.3-2.9 3.3-5 4.4-8.7 2.7-6.9 2.2-7.4 1.7-7.3 1.1-7.3 4.4-41.3 1.7-22.1 2.2-42.8 2.2-23.9 1.1-4.7 .5 .8 1.1 7.1 2.2 19.5 .6 2.7 .5 .6 .6-1.1 1.1-5.7 3.8-32 1.1-4.7 .6-.4 1.1 5.9 2.7 31.4 2.2 31.6 2.2 24.6 3.9 57.5 2.7 20.5 2.8 11.2 1.1 3.2 1.1 1.9 3.9 2.8 2.7 1.1 2.2 .5 2.2-.1 2.2-.8 5-3.1 1.6-1.7 2.8-4.4 6.6-12.8 6.6-16.9 2.2-8.4 1.7-9.2 5.5-57.8 4.9-88.8 1.1-30.9 .6-4.4 1.6 .7 1.1 1 .6 1.3 1.6 17.5 .6-2.4 2.2-63.9 .5 2.9 2.8 54.6 .5-2.6 2.3-37.9 1.1-12.2 1.1 47.4 1.1 24.8 2.2 35.4 3.3 63.4 1.6 19.9 1.1 5.9 1.1 3.7 1.7 3.3 3.3 3 1.1 .4 1.1-.1 1.6-3.5 3.3-11.5 .6-1.5 .5-.2 1.7 14.1 1.1 19.9 1.6 9 1.1 1.6 1.7 1.3 1.1 .4 5.5 .1 1.1 1.1 3.3 6.6 2.8 7.9 3.3 7.4 1.1 1.4 4.4 3.6 7.1 12.3 3.3 4 1.7 1.2 2.2-.2 3.9-1.8 3.3-.8 6-.9 2.2 .5 5.5 2.3 6.6 .7 59-.1 48.4 1.5 27 1.4 10.5 .9 12.7 1.6 4.9 .2 4.4-.7 16.6-4.8 4.9-.7 5 .9 16.5 6 4.4 .7 10.5-.4 14.3-1.4 26.4-5.1 9.9-1.1 4.4 .7 9.4 3.9 4.4 .9 16-.6 2.7-.7 6.7-2.6 3.3-.7 4.9 .1 13.2 1.5 5.5 .2 8.3-.7 19.8-2.7 13.8-.6 29.2 0 11.6 .4 47.3-.4 11.6 .4 32.5 2.4 9.4 .1 10.4-.5 14.9-1.3 8.8-1.4 17.1-4.4 9.9-3.4 9.9-4.5 10.5-6.7 8.8-4.6 2.2-1.5 5.5-5.4 6.1-3.9 4.4-1.8 7.7-1.6 3.8-1.2 4.4-2.1 5-3 3.3-2.9 4.4-4.9 3.9-4.9 3.8-6 4.4-8.5 7.7-19.2 2.2-7.4 1.1-5.6 8.3-53.5 1.7-16.7 1.6-25.3 5-104.5 4.4-62.6 2.2-45.6 3.8-63.4 1.1-13.2 2.8-17.1 1.6-17.3 2.2-32.7 2.2-49.1 1.7 38.5 3.9 41.5 1.6 25.4 .6 3.6 1.1 3.5 2.2 4.9 2.2 18.2 1.6 6.4 1.7 3.6 .5 .5 1.1-.3 1.7-2.8 1.6-4.7 2.2-8.3 1.1-8.9 2.2-25.4 2.8-39.8 4.4-72 3.3-77.8 1.7-21.9 .5 2 .6 5.1 2.2 24.7 .5 .5 .6-2.5 2.7-26.9 .6-2.3 .5 7.7 3.3 114.8 3.9 96.7 3.3 95.8 1.6 67.4 9.4 204.9 2.8 49.7 2.7 35.2 2.8 19.9 1.6 8 2.8 9.6 1.6 4.2 2.8 4.3 2.2 2.5 2.2 1.6 4.9 1.3 5 .6 27-1.1 8.2-.8 10-1.7 20.9-4.9 9.9-1.4 4.4 .2 6.1 1 15.4 4 12.7 2.9 4.4 .6 14.8-.2 39.7-5.2 10.5-.6 8.8 .3 19.8 1.4 16.5 .6 2.2 .6 4.4 2.1 2.2 .5 11.1-.5 6-1.4 2.8-1.2 3.8-4.2 2.8-1.5 1.6-.6 1.1 .1 3.3 3 1.1 .2 4.4-2.9 7.8-1.2 1.6-1.4 3.9-5.6 6-11.5 3.3-7.8 5.5-17.1 2.8-10.8 1.6-9.5 6.1-46.3 2.2-22.4 1.1-4.1 1.1-1.9 1.1 .9 1.7 2.9 .5 .2 .6-.7 1.6-5.8 1.7-13.2 .5 1.2 1.7 21.5 1.1 7.6 .5 1 3.3 1 .6 1.2 2.7 28.3 3.3 43.3 1.7 13.4 3.8 18.9 2.2 4.8 3.4 3.8 2.2 1.2 8.8-.3 5.5 1.1 1.6 .8 3.9 4.6 3.8 2 2.8 .6 9.9-.7 3.9-3.5 1.1-.6 1.6 .5 2.8 2 1.6 .6 1.1-.2 3.9-2 1.6 .1 3.9 1 1.6 0 5.5-2.7 3.9-2.9 2.2-.6 1.1 1 2.2 3.8 1.1 .9 9.9 .8 7.7 1.6 6.7 1.8 10.4 4.5 4.4 1.4 2.8 .3 13.7 .2 18.8-.5" stroke="#000000"/>
<path d="M213.8 2795.6l1.1-16.4 1.6-13.2 2.8-14.7 4.4-18.1 1.1-2.5 .5 0 2.2 16.2 .6 1.2 .5-1.4 2.2-12.8 2.2-6.7 1.1-2.5 1.1-1.3 2.2 .3 2.2 1.3 1.1 1.3 1.7 6.7 1.7 19.3 2.7 54.3 1.7 21.9 1.1 9.1 2.7 16.2 1.7 6.3 2.2 5.6 2.2 3.2 2.7 2.8 2.8 1.6 2.7 .8 2.2 .2 2.2-.6 3.3-1.7 2.8-2.4 2.8-3.2 2.7-4.4 2.2-4.6 2.2-5.9 1.1-4.9 2.8-17.3 2.2-19 2.7-31.9 5.5-82.1 1.7-18.9 1.1-24.8 2.7-38.1 1.7-44.7 1.6-67.1 2.8-40 2.2-119.2 2.2-156.1 1.7-69.9 1.1-27 1.1-58.9 .5-8.2 1.1-9.1 2.2-10.8 .6-1.6 .5 .4 1.7 64 .5 9.7 .6-5.7 .5-13.7 1.7-53.4 .5-10.1 .6-1 4.4 61.8 1.1 24.5 2.7 165.3 2.8 114.8 1.1 110.4 2.8 65.8 3.3 49.9 5.5 118 4.9 82.1 3.3 36.8 2.2 19.2 2.8 14.7 1.1 4 1.6 4.2 2.2 4.2 1.7 2.2 5.5 4.1 2.8 1.1 2.7 0 3.9-2 3.3-2.8 3.3-5.1 4.4-8.8 2.7-7 2.2-7.4 1.7-7.3 1.1-7.5 4.4-41.7 1.7-22.3 2.2-43.2 2.2-24.1 1.1-4.8 .5 .8 1.1 7.2 2.2 19.7 .6 2.7 .5 .6 .6-1.1 1.1-5.8 3.8-32.3 1.1-4.7 .6-.4 1.1 6 2.7 31.6 2.2 32 2.2 24.8 3.9 58.1 2.7 20.7 2.8 11.3 1.1 3.2 1.1 2 3.9 2.7 2.7 1.2 2.2 .4 2.2-.1 2.2-.7 5-3.1 1.6-1.8 2.8-4.4 6.6-12.9 6.6-17.1 2.2-8.4 1.7-9.2 5.5-58.3 4.9-89.4 1.1-31.1 .6-4.5 1.6 .7 1.1 1 .6 1.4 1.6 17.6 .6-2.5 2.2-64.4 .5 3 2.8 55 .5-2.7 2.3-38.1 1.1-12.3 1.1 47.8 1.1 24.9 2.2 35.7 3.3 63.8 1.6 20.1 1.1 6 1.1 3.7 1.7 3.3 3.3 3 1.1 .4 1.1 0 1.6-3.6 3.3-11.6 .6-1.5 .5-.1 1.7 14.1 1.1 20.1 1.6 9.1 1.1 1.6 1.7 1.3 1.1 .3 5.5 .2 1.1 1 3.3 6.7 2.8 8 3.3 7.5 1.1 1.3 4.4 3.7 7.1 12.4 3.3 4 1.7 1.2 2.2-.2 3.9-1.8 3.3-.9 6-.9 2.2 .5 5.5 2.4 6.1 .7 59.5 .4 47.9 1.8 27 1.7 11 1 12.7 1.7 4.9 .3 4.4-.6 16.6-4.8 4.9-.6 5.5 1.1 16.5 6.1 2.3 .6 2.7 .1 9.9-.4 13.8-1.2 25.3-4.8 10.5-1.3 4.4 .4 10.5 3.9 4.4 .6 15.4-1 2.7-.8 6.7-2.8 3.3-.8 4.9 0 13.2 1.1 5.5 0 7.8-.8 21.4-3.5 19.3-1.1 80.4-1.5 12.7 .4 32.5 2.1 9.4 0 9.9-.5 14.8-1.4 9.4-1.6 17.1-4.5 9.9-3.5 9.9-4.6 10.5-6.8 8.8-4.7 2.2-1.6 5.5-5.4 6.1-4 4.4-1.8 7.7-1.7 3.8-1.2 4.4-2.1 5-3.2 3.3-2.8 4.4-5 3.9-5 3.8-6 4.4-8.6 7.7-19.4 2.2-7.4 1.1-5.7 8.3-53.8 1.7-16.7 1.6-25.4 5-105.1 4.4-62.9 2.2-45.8 3.8-62.8 1.1-12.4 3.3-15.4 2.2-20.4 1.7-24.3 1.6-37.5 1.1 29.3 .6 6.8 3.9 29.9 1.6 22 .6 2.8 3.3 6.3 2.2 18.1 2.2 8.3 1.6 4 .6 .6 1.1 .3 1.6-1.5 1.7-3.6 1.6-5.6 1.1-8.8 2.2-25.1 2.8-39.3 4.4-71.2 3.3-76.7 1.7-21.7 .5 2 .6 5 2.2 24.4 .5 .5 .6-2.5 2.7-26.6 .6-2.3 .5 7.6 3.3 113.3 3.9 95.5 3.3 94.5 1.6 66.5 9.4 202.2 2.8 49.1 2.7 34.7 2.8 19.6 1.6 7.8 2.8 9.6 1.6 4.1 2.8 4.2 2.7 2.9 2.2 1.3 6.1 1.4 6 .2 24.8-1.3 8.3-.9 9.4-1.6 20.9-5 7.1-1.2 3.9-.3 9.4 1.2 14.3 3.6 13.2 2.9 4.4 .6 15.4-.3 39.7-4.2 9.9-.3 9.4 .6 20.4 2.2 15.9 1.1 2.2 .7 4.4 2.4 2.8 .5 10.5-.2 6-1.2 2.8-1.2 3.8-4.3 3.9-1.9 1.6 0 3.3 3.2 1.1 .3 4.4-2.9 7.8-1 1.6-1.4 3.9-5.8 6-11.8 3.3-8.2 5.5-17.8 2.8-11.3 1.6-9.9 6.1-48.5 2.2-23.5 1.1-4.3 1.1-1.9 1.1 1 1.7 3 .5 .3 .6-.7 1.6-6.1 1.7-13.8 .5 1.3 1.7 22.7 1.1 8 .5 1 3.3 1.2 .6 1.2 2.7 29.9 3.3 45.6 1.7 14.2 3.8 20 2.2 5.2 3.4 4.1 2.2 1.3 9.3 0 5.5 1.5 1.7 1.3 3.3 4.4 3.3 2 2.7 .8 10.5-.5 3.9-3.7 1.1-.6 1.6 .5 2.8 2.1 1.6 .6 1.1-.2 3.9-2.2 1.6 .1 3.9 1.1 1.6 0 5.5-2.8 3.9-3.1 2.2-.6 1.1 1.1 2.2 3.9 1.1 1 9.9 .8 7.2 1.5 7.2 2.1 10.4 4.6 4.4 1.3 2.8 .4 13.7-.1 18.8-.8" stroke="#ff0000"/>
<path d="M213.8 2709.7l1.1-16.2 1.6-13 2.8-14.5 4.9-19.3 .6-.9 .5 0 2.2 15.9 .6 1.2 .5-1.4 2.2-12.6 3.3-9.1 1.1-1.2 1.1 0 1.7 .5 2.2 1.5 .5 .8 1.1 3.7 2.3 12.9 1.1 11.7 3.8 57.2 1.7 18.3 2.2 17.7 2.7 10.8 1.1 2.7 1.7 2.8 2.2 2.9 2.2 2 1.6 .9 2.2 .4 6.6 .6 5-.5 5-1.7 1.1-1.3 1.1-2.1 1.6-4.5 .6-2.6 4.9-43.5 2.8-35 6-118 1.7-16.2 1.6-43.9 1.7-12.9 1.1-18.3 2.7-110.4 .6-2 1.7-2 .5-6.4 2.2-115 1.7-120.2 1.6-71.3 1.7-42.9 1.1-57.9 .5-8.1 1.1-9 2.2-10.6 .6-1.6 .5 .4 1.7 63 .5 9.6 .6-5.7 .5-13.4 1.7-52.6 .5-10 .6-.9 4.4 60.8 1.1 24.1 2.7 162.8 2.8 113.1 1.1 108.7 2.8 64.8 3.3 49.1 5.5 116.3 4.9 80.8 3.3 36.2 2.2 18.9 2.8 14.5 1.1 4 1.6 4 2.2 4.2 1.7 2.2 5.5 4 2.8 1.1 2.7-.1 3.9-1.8 3.3-2.8 3.3-4.9 4.4-8.5 2.7-6.7 2.2-7.1 1.7-7.1 1.1-7.2 4.4-40.1 1.7-21.5 2.2-41.6 2.2-23.2 1.1-4.6 .5 .8 1.1 6.8 2.2 19.1 .6 2.5 .5 .6 .6-1 1.1-5.6 3.8-31.1 1.1-4.6 .6-.3 1.1 5.7 2.7 30.5 2.2 30.8 2.2 23.9 3.9 55.9 2.7 20 2.8 10.8 1.1 3.1 1.1 1.9 3.9 2.7 2.7 1.1 2.2 .4 2.2-.1 2.2-.7 5-3.2 1.6-1.7 2.8-4.4 6.6-12.8 6.6-16.8 2.2-8.3 1.7-9.2 5.5-57.7 4.9-88.5 1.1-30.8 .6-4.4 1.6 .6 1.1 1 .6 1.4 1.6 17.4 .6-2.4 2.2-63.7 .5 2.9 2.8 54.5 .5-2.7 2.3-37.7 1.1-12.2 1.1 47.3 1.1 24.7 2.2 35.3 3.3 63.2 1.6 19.8 1.1 6 1.1 3.6 1.7 3.3 3.3 3 1.1 .4 1.1-.1 1.6-3.5 3.3-11.5 .6-1.5 .5-.1 1.7 14 1.1 19.9 1.6 9 1.1 1.6 1.7 1.2 1.1 .4 5.5 .1 1.1 1.1 3.3 6.6 2.8 7.9 3.3 7.4 1.1 1.3 4.4 3.7 7.1 12.3 3.3 3.9 1.7 1.2 2.2-.2 3.9-1.8 3.3-.8 6-.9 2.2 .5 5.5 2.4 5.5 .6 37.5 .1 28.6-3.2 6.6-2 6.1-3 2.2-.7 2.8-.4 8.2 .2 6.1-1.4 2.2 .7 6.6 5.2 4.4 2.3 13.8 3.3 14.8 2.8 18.8 2.2 6 .2 3.9-.7 16-4.5 5.5-.6 4.4 .8 16.5 6 3.9 .8 10.4-.3 14.9-1.3 26.4-4.9 9.9-1.2 4.4 .7 9.4 3.8 4.4 .9 16-.7 2.7-.7 6.7-2.6 3.3-.7 4.9 .1 13.2 1.4 5.5 .1 8.3-.7 19.8-2.8 13.8-.6 29.2-.2 11.6 .3 47.9-.7 11.6 .4 31.9 2.1 8.8 .1 9.9-.4 15.4-1.4 8.9-1.5 17-4.4 10.5-3.6 9.9-4.4 10.5-6.8 8.8-4.6 2.2-1.5 5.5-5.4 6.1-3.9 4.4-1.8 7.7-1.6 3.8-1.3 4.4-2 5-3.1 3.3-2.8 4.4-4.9 3.9-5 3.8-5.9 4.4-8.4 7.7-19.2 2.2-7.3 1.1-5.6 8.3-53.1 1.7-16.5 1.6-25.1 5-103.8 4.4-62.1 2.2-45.1 3.8-62 1.1-12.3 3.3-15.2 2.2-20.1 1.7-24 1.6-37.1 1.1 29 .6 6.7 3.9 29.6 1.6 21.6 .6 2.8 3.3 6.3 2.2 17.8 2.2 8.2 1.6 3.8 .6 .6 1.1 .1 1.6-1.7 1.7-3.7 1.6-5.6 1.1-8.6 2.2-24.8 2.8-39 4.4-70.3 3.3-75.9 1.7-21.4 .5 1.9 .6 5 2.2 24.1 .5 .5 .6-2.5 2.7-26.2 .6-2.3 .5 7.5 3.3 112.1 3.9 94.4 3.3 93.5 1.6 65.8 9.4 199.9 2.8 48.5 2.7 34.4 2.8 19.4 1.6 7.8 2.8 9.4 1.6 4.1 2.8 4.1 2.2 2.5 2.2 1.5 7.1 1.6 3.9 .2 25.3-.6 14.9-1.3 24.2-5 7.2-1.1 3.9-.2 9.9 1.3 14.8 4.2 13.3 3.1 4.4 .7 14.8 0 39.7-4.9 10.5-.5 8.8 .4 19.8 1.8 16.5 .9 2.2 .7 4.4 2.3 2.2 .5 11.1-.4 6-1.4 2.8-1.1 3.8-4.4 2.8-1.6 1.6-.6 1.1 .1 3.3 3.2 1.1 .3 4.4-3 7.8-1.2 1.6-1.4 3.9-5.9 6-12 3.3-8.2 5.5-18 2.8-11.5 1.6-9.9 6.1-48.9 2.2-23.6 1.1-4.4 1.1-1.9 1.1 1 1.7 3 .5 .2 .6-.7 1.6-6.1 1.7-13.9 .5 1.2 1.7 22.8 1.1 8.1 .5 1 3.3 1.1 .6 1.3 2.7 30 3.3 45.7 1.7 14.3 3.8 20 2.2 5.1 3.4 4.1 2.2 1.3 9.3-.2 5.5 1.5 1.7 1.2 3.3 4.3 3.3 2 2.7 .8 10.5-.5 3.9-3.6 1.1-.6 1.6 .5 2.8 2.2 1.6 .6 1.1-.2 3.9-2.1 1.6 .2 3.9 1.1 1.6 .1 5-2.4 4.4-3.4 1.7-.6 1.1 .4 2.7 4.7 1.1 1 9.4 .9 6 1.3 8.3 2.5 9.9 4.1 5 1.5 3.3 .3 11.5-.6 21-1.8" stroke="#0000ff"/>
<path d="M213.8 2623.8l1.1-15.9 1.6-12.7 2.8-14.2 4.9-18.9 .6-.9 .5 0 2.2 15.6 .6 1.1 .5-1.3 2.2-12.3 3.3-8.9 1.1-1.3 1.1 0 1.7 .6 2.2 1.4 .5 .8 1.1 3.6 2.3 12.6 1.1 11.5 3.8 56 1.7 17.9 2.2 17.3 2.7 10.6 1.1 2.7 1.7 2.7 2.2 2.8 2.2 2 1.6 .8 2.2 .4 6.6 .6 5-.5 5-1.7 1.1-1.2 1.1-2 1.6-4.5 .6-2.5 4.9-42.6 2.8-34.2 6-115.5 1.7-15.9 1.6-42.9 1.7-12.7 1.1-17.9 2.7-108.1 .6-1.9 1.7-2 .5-6.2 2.2-112.6 1.7-117.6 1.6-69.8 1.7-42 1.1-56.7 .5-7.9 1.1-8.8 2.2-10.4 .6-1.5 .5 .4 1.7 61.7 .5 9.3 .6-5.5 .5-13.2 1.7-51.5 .5-9.7 .6-.9 4.4 59.5 1.1 23.6 2.7 159.3 2.8 110.7 1.1 106.4 2.8 63.4 3.3 48.1 5.5 113.7 4.9 79.1 3.3 35.5 2.2 18.5 2.8 14.2 1.1 3.9 1.6 3.9 2.2 4.1 1.7 2.2 5.5 3.9 2.8 1 2.7 0 3.9-1.8 3.3-2.7 3.3-4.7 4.4-8.3 2.7-6.5 2.2-6.9 1.7-6.9 1.1-7 4.4-39 1.7-20.9 2.2-40.4 2.2-22.6 1.1-4.4 .5 .8 1.1 6.6 2.2 18.5 .6 2.5 .5 .6 .6-1 1.1-5.4 3.8-30.3 1.1-4.4 .6-.3 1.1 5.5 2.7 29.7 2.2 29.8 2.2 23.3 3.9 54.3 2.7 19.4 2.8 10.5 1.1 3 1.1 1.9 3.9 2.6 2.7 1.1 2.2 .4 2.2-.2 2.2-.7 5-3.1 2.2-2.4 8.8-16.2 6.6-16.6 2.2-8.2 1.7-9 5.5-56.8 4.9-87 1.1-30.4 .6-4.3 1.6 .6 1.1 1 .6 1.4 1.6 17.1 .6-2.4 2.2-62.7 .5 2.9 2.8 53.6 .5-2.6 2.3-37.2 1.1-12 1.1 46.6 1.1 24.3 2.2 34.7 3.3 62.2 1.6 19.6 1.1 5.8 1.1 3.6 1.7 3.3 3.3 2.9 1.1 .4 1.1-.1 1.6-3.4 3.3-11.4 .6-1.4 .5-.1 1.7 13.7 1.1 19.6 1.6 8.8 1.1 1.6 1.7 1.3 1.1 .3 5.5 .1 1.1 1.1 3.3 6.5 2.8 7.8 3.3 7.3 1.1 1.2 4.4 3.6 7.1 12.1 3.3 3.9 1.7 1.2 2.2-.2 3.9-1.7 3.3-.9 6-.9 2.2 .5 5.5 2.4 5 .5 38 .6 24.2-5.8 4.4-1.4 2.8-1.6 3.8-3.1 2.2-2.1 3.9-4.9 2.2-1.6 2.8-1 8.2 .2 4.4-2.8 1.7-.6 1.1 .3 1.6 1.9 2.8 4.4 2.7 5.5 2.8 3.9 2.2 2.1 3.3 2 12.1 5.3 13.2 4.4 21.5 2.7 3.3 .1 2.8-.4 16.5-4.4 5-.7 2.7 .2 2.8 .7 17.6 6.6 2.2 .4 3.3 .1 9.9-.4 13.2-1 24.8-4.3 11-1.2 3.9 .4 10.5 4 4.4 .6 15.4-.9 2.7-.8 6.7-2.6 3.3-.7 4.9-.1 13.2 1.2 5.5 .1 7.8-.8 21.4-3.2 21-1 20.9-.4 11 .2 6.6-.3 39.7 0 12.6 .5 33.6 2.5 9.4 .1 9.9-.4 14.9-1.2 8.8-1.4 17.1-4.2 9.9-3.2 9.9-4.4 10.5-6.6 8.8-4.4 2.2-1.5 5.5-5.2 6.1-3.8 4.4-1.8 7.7-1.5 3.8-1.2 4.4-2 5-2.9 3.3-2.8 4.4-4.8 3.9-4.8 3.8-5.9 4.4-8.2 7.7-18.9 2.2-7.2 1.1-5.6 8.3-52.4 1.7-16.3 1.6-24.8 5-102.5 4.4-61.4 2.2-44.7 3.8-61.3 1.1-12 3.3-15.1 2.2-19.8 1.7-23.8 1.6-36.6 1.1 28.7 .6 6.6 3.9 29.3 1.6 21.5 .6 2.7 3.3 6.2 2.2 17.7 2.2 8.1 1.6 3.7 .6 .6 1.1 .2 1.6-1.7 1.7-3.7 1.6-5.5 1.1-8.6 2.2-24.5 2.8-38.5 4.4-69.5 3.3-75.1 1.7-21.2 .5 2 .6 4.9 2.2 23.9 .5 .5 .6-2.4 2.7-26 .6-2.2 .5 7.4 3.3 110.9 3.9 93.4 3.3 92.6 1.6 65.1 9.4 197.9 2.8 48 2.7 34 2.8 19.3 1.6 7.7 2.8 9.3 1.6 4.1 2.8 4.1 2.7 2.9 2.2 1.3 6.1 1.4 6 .3 24.8-1.2 8.3-.8 9.4-1.6 20.9-4.8 7.1-1.2 3.9-.2 9.4 1.1 13.7 3.5 13.8 2.9 4.4 .6 15.4-.3 22.6-2.3 16.5-2.1 10.5-.4 9.4 .5 20.4 2.3 15.9 1.1 2.2 .8 4.4 2.4 2.8 .6 10.5-.3 6-1.3 2.8-1.2 3.8-4.5 3.9-2 1.6 0 3.3 3.4 1.1 .3 4.4-3 7.8-1.2 1.6-1.4 3.9-6.1 6-12.2 3.3-8.4 5.5-18.5 2.8-11.8 1.6-10.3 6.1-50.3 2.2-24.4 1.1-4.5 1.1-1.9 1.1 1 1.7 3.1 .5 .3 .6-.7 1.6-6.3 1.7-14.3 .5 1.3 1.7 23.5 1.1 8.3 .5 1.1 3.3 1.2 .6 1.3 2.7 31 3.3 47.3 1.7 14.7 3.8 20.8 2.2 5.3 3.4 4.2 2.2 1.4 9.3 0 5.5 1.6 1.7 1.3 3.3 4.5 3.3 2 2.7 1 10.5-.6 1.1-.7 2.8-3 1.1-.6 1.6 .5 2.8 2.3 1.6 .7 1.1-.2 3.9-2.2 1.6 .1 3.9 1.2 1.6 .1 5-2.5 4.4-3.5 1.7-.7 1.1 .5 2.7 4.8 1.1 1.1 9.4 .9 6 1.3 8.3 2.5 10.5 4.6 4.9 1.5 2.8 .2 13.7-.7 18.8-1.5" stroke="#ff00ff"/>
<path d="M213.8 2543.2l1.1-16 1.6-12.8 2.8-14.3 4.9-19.1 .6-.9 .5-.1 2.2 15.8 .6 1.2 .5-1.4 2.2-12.4 3.3-9 1.1-1.3 1.1 0 1.7 .6 2.2 1.4 .5 .8 1.1 3.7 2.3 12.7 1.1 11.5 3.8 56.6 1.7 18.1 2.2 17.5 2.7 10.6 1.1 2.8 1.7 2.7 2.2 2.8 2.2 2.1 1.6 .8 2.2 .4 6.6 .6 5-.5 5-1.7 1.1-1.2 1.1-2.1 1.6-4.5 .6-2.5 4.9-43 2.8-34.6 6-116.6 1.7-16 1.6-43.4 1.7-12.7 1.1-18.2 2.7-109.1 .6-1.9 1.7-2 .5-6.3 2.2-113.7 1.7-118.7 1.6-70.4 1.7-42.4 1.1-57.3 .5-8 1.1-8.9 2.2-10.5 .6-1.5 .5 .4 1.7 62.3 .5 9.4 .6-5.6 .5-13.3 1.7-52 .5-9.8 .6-1 4.4 60.2 1.1 23.8 2.7 160.8 2.8 111.8 1.1 107.4 2.8 64 3.3 48.6 5.5 114.8 4.9 79.9 3.3 35.8 2.2 18.7 2.8 14.3 1.1 3.9 1.6 4 2.2 4.1 1.7 2.2 5.5 4 2.8 1.1 2.7-.1 3.9-1.8 3.3-2.8 3.3-4.9 4.4-8.4 2.7-6.7 2.2-7.2 1.7-7 1.1-7.2 4.4-40.1 1.7-21.5 2.2-41.6 2.2-23.2 1.1-4.6 .5 .8 1.1 6.9 2.2 19 .6 2.6 .5 .6 .6-1.1 1.1-5.5 3.8-31.1 1.1-4.6 .6-.3 1.1 5.7 2.7 30.5 2.2 30.7 2.2 23.9 3.9 55.8 2.7 20 2.8 10.8 1.1 3.1 1.1 1.9 3.9 2.7 2.7 1.1 2.2 .4 2.2-.1 2.2-.7 5-3.1 1.6-1.7 2.8-4.4 6.6-12.7 6.6-16.8 2.2-8.2 1.7-9.1 5.5-57.4 4.9-87.9 1.1-30.7 .6-4.4 1.6 .7 1.1 1 .6 1.4 1.6 17.3 .6-2.5 2.2-63.3 .5 3 2.8 54.1 .5-2.7 2.3-37.5 1.1-12.1 1.1 47 1.1 24.5 2.2 35.1 3.3 62.8 1.6 19.8 1.1 5.9 1.1 3.6 1.7 3.3 3.3 2.9 1.1 .5 1.1-.1 1.6-3.5 3.3-11.4 .6-1.5 .5-.1 1.7 13.9 1.1 19.7 1.6 8.9 1.1 1.7 1.7 1.2 1.1 .4 5.5 .1 1.1 1 3.3 6.6 2.8 7.9 3.3 7.3 1.1 1.3 4.4 3.7 7.1 12.2 3.3 3.9 1.7 1.2 2.2-.2 3.9-1.8 3.3-.8 6-.9 2.2 .5 5.5 2.4 5.5 .6 37.5 0 14.9-6.8 9.3-3.7 4.4-2.6 2.8-2.7 3.8-5.4 2.2-3.6 3.9-8.4 2.2-2.8 1.7-1.4 1.1-.5 8.2 0 1.7-1.4 2.7-3.5 1.7-1.1 1.1 .4 1.6 3.2 2.8 7.2 2.7 8.9 2.8 6.3 1.7 2.8 3.3 3.4 12.6 8.4 6.6 3.4 6.1 2.7 1.1 .4 17.6 2 5 .2 3.3-.3 17.6-5 5-.7 4.9 .6 17.1 6 4.4 .8 10.5-.4 14.3-1.4 26.4-5 9.9-1.2 4.4 .7 9.4 3.8 4.4 .8 16-.6 2.7-.8 6.7-2.5 3.3-.7 4.9 .1 13.2 1.3 5.5 .2 8.3-.7 19.8-2.8 13.8-.6 29.2-.2 11.6 .3 47.9-.7 11.6 .5 31.9 2 9.4 .1 9.9-.5 14.8-1.3 9.4-1.5 17.1-4.5 9.9-3.3 9.9-4.4 10.5-6.7 8.8-4.5 2.2-1.6 5.5-5.2 6.1-3.9 4.4-1.8 7.7-1.6 3.8-1.2 4.4-2.1 5-3 3.3-2.8 4.4-4.8 3.9-4.9 3.8-5.9 4.4-8.3 7.7-18.9 2.2-7.2 1.1-5.6 8.3-52.5 1.7-16.3 1.6-24.8 5-102.5 4.4-61.3 2.2-44.7 3.8-61.2 1.1-12.1 3.3-15.1 2.2-19.8 1.7-23.8 1.6-36.6 1.1 28.7 .6 6.6 3.9 29.2 1.6 21.4 .6 2.7 3.3 6.2 2.2 17.7 1.6 6.2 1.7 4.2 1.1 1 .5 0 1.7-1.7 1.6-3.7 2.2-7.5 1.1-8.6 2.2-24.6 2.8-38.8 4.4-70 3.3-75.5 1.7-21.3 .5 1.9 .6 5 2.2 24 .5 .5 .6-2.5 2.7-26.1 .6-2.2 .5 7.4 3.3 111.5 3.9 93.9 3.3 93 1.6 65.5 9.4 198.9 2.8 48.3 2.7 34.1 2.8 19.4 1.6 7.7 2.8 9.3 1.6 4.1 2.8 4.2 2.7 2.9 2.2 1.2 6.1 1.4 6 .2 24.8-1.5 8.3-1 9.4-1.7 20.9-5.1 7.1-1.3 3.9-.3 9.4 1 13.2 3.2 18.2 3.5 15.9-.5 22.6-2.3 16.5-2 10.5-.4 9.4 .5 20.4 2.3 15.9 1.1 2.2 .7 4.4 2.4 2.8 .6 10.5-.2 6-1.3 2.8-1.2 3.8-4.4 3.9-2 1.6 0 3.3 3.3 1.1 .3 4.4-3 7.8-1.1 1.6-1.4 3.9-6 6-12.1 3.3-8.3 5.5-18.2 2.8-11.7 1.6-10.1 6.1-49.7 2.2-24.1 1.1-4.4 1.1-2 1.1 1.1 1.7 3.1 .5 .2 .6-.7 1.6-6.2 1.7-14.1 .5 1.2 1.7 23.3 1.1 8.2 .5 1.1 3.3 1.1 .6 1.3 2.7 30.7 3.3 46.7 1.7 14.5 3.8 20.5 2.2 5.3 3.4 4.2 2.2 1.3 9.3 0 5.5 1.6 1.7 1.2 3.3 4.5 3.3 2 2.7 .9 10.5-.4 3.9-3.7 1.1-.6 1.6 .5 2.8 2.2 1.6 .7 1.1-.2 3.9-2.2 1.6 .2 3.9 1.1 1.6 .1 5-2.4 4.4-3.5 1.7-.6 1.1 .4 2.7 4.8 1.1 1 8.8 .9 6.1 1.2 8.2 2.5 10.5 4.2 5 1.4 3.3 .2 11.5-.9 21-2.4" stroke="#008000"/>
<path d="M213.8 2454.4l1.1-15.8 1.6-12.6 2.8-14.1 4.9-18.8 .6-.9 .5 0 2.2 15.5 .6 1.1 .5-1.3 2.2-12.3 3.3-8.8 1.1-1.2 1.1 0 1.7 .5 2.2 1.4 .5 .8 1.1 3.6 2.3 12.5 1.1 11.4 3.8 55.8 1.7 17.8 2.2 17.2 2.7 10.5 1.1 2.7 1.7 2.7 2.2 2.8 2.2 2 1.6 .8 2.2 .4 6.6 .6 5-.5 5-1.6 1.1-1.3 1.1-2 1.6-4.4 .6-2.6 4.9-42.3 2.8-34.1 6-114.9 1.7-15.8 1.6-42.7 1.7-12.6 1.1-17.9 2.7-107.5 .6-1.9 1.7-1.9 .5-6.3 2.2-112 1.7-117 1.6-69.4 1.7-41.8 1.1-56.5 .5-7.8 1.1-8.8 2.2-10.3 .6-1.6 .5 .5 1.7 61.3 .5 9.3 .6-5.5 .5-13.1 1.7-51.2 .5-9.7 .6-.9 4.4 59.2 1.1 23.5 2.7 158.5 2.8 110.1 1.1 105.9 2.8 63.1 3.3 47.9 5.5 113.2 4.9 78.7 3.3 35.3 2.2 18.4 2.8 14.1 1.1 3.8 1.6 4 2.2 4 1.7 2.2 5.5 3.9 2.8 1 2.7 0 3.9-1.8 3.3-2.7 3.3-4.8 4.4-8.2 2.7-6.5 2.2-7 1.7-6.9 1.1-7 4.4-39.1 1.7-20.9 2.2-40.5 2.2-22.6 1.1-4.5 .5 .8 1.1 6.7 2.2 18.5 .6 2.5 .5 .6 .6-1.1 1.1-5.4 3.8-30.3 1.1-4.4 .6-.3 1.1 5.5 2.7 29.7 2.2 30 2.2 23.3 3.9 54.4 2.7 19.4 2.8 10.6 1.1 3 1.1 1.9 3.9 2.6 2.7 1.1 2.2 .4 2.2-.2 2.2-.7 5-3.1 2.2-2.5 8.8-16.3 6.6-16.7 2.2-8.3 1.7-9.1 5.5-57.2 4.9-87.8 1.1-30.6 .6-4.4 1.6 .6 1.1 1 .6 1.4 1.6 17.3 .6-2.4 2.2-63.3 .5 3 2.8 54 .5-2.7 2.3-37.4 1.1-12.1 1.1 46.9 1.1 24.5 2.2 35.1 3.3 62.7 1.6 19.7 1.1 5.9 1.1 3.6 1.7 3.3 3.3 2.9 1.1 .5 1.1-.1 1.6-3.5 3.3-11.4 .6-1.5 .5-.1 1.7 13.9 1.1 19.7 1.6 8.9 1.1 1.6 1.7 1.3 1.1 .3 5.5 .2 1.1 1 3.3 6.6 2.8 7.8 3.3 7.4 1.1 1.3 4.4 3.6 7.1 12.2 3.3 3.9 1.7 1.2 2.2-.2 3.9-1.7 3.3-.9 6-.9 2.2 .5 5.5 2.4 5 .5 38 .4 14.9-9.3 8.8-4.7 4.9-3.9 2.8-3.8 3.8-7.6 2.2-5 3.9-11.8 2.2-3.8 1.7-2 1.1-.7 8.2 0 1.7-2 2.7-4.9 1.7-1.5 .5 0 .6 .6 1.1 2.6 2.7 9.6 3.9 16.8 2.2 6.8 2.2 4.9 3.9 4.9 8.2 7.8 5.5 4.4 7.2 4.8 4.4 2.4 17.6 2.2 5.5 .3 4.4-.5 17.1-4.7 5.5-.4 5 1.2 15.4 5.6 3.9 .8 10.4-.2 14.9-1.2 26.4-4.6 9.9-1 3.9 .6 10.5 4.2 4.4 .8 15.4-.4 2.7-.6 7.2-2.6 3.3-.4 5 .2 12.1 1.5 5.5 .3 8.8-.5 18.2-2.2 7.7-.4 26.4 .1 22.6 .7 50.7-1.1 44.6 2 12.7-.6 16.5-1.6 8.8-1.5 11-2.7 11.6-3.4 9.4-3.7 6.6-3.2 9.9-6.4 9.3-4.9 7.2-6.4 6.1-3.9 4.4-1.9 7.7-1.6 3.8-1.3 4.4-2 5-3.1 3.3-2.8 4.4-4.8 3.9-4.8 3.8-5.8 4.4-8.3 7.7-18.7 2.2-7.2 1.1-5.4 8.3-51.8 1.7-16.1 1.6-24.4 5-100.9 4.4-60.5 2.2-44 3.8-60.3 1.1-11.9 3.3-14.9 2.2-19.6 1.7-23.3 1.6-36.1 1.1 28.2 .6 6.5 3.9 28.7 1.6 21.1 .6 2.6 3.3 6.1 2.2 17.3 1.6 6.2 1.7 4 1.1 1.1 .5-.1 1.7-1.7 1.6-3.7 2.2-7.3 1.1-8.5 2.2-24.3 2.8-38.2 4.4-68.9 3.3-74.4 1.7-21 .5 1.9 .6 4.9 2.2 23.6 .5 .5 .6-2.5 2.7-25.7 .6-2.2 .5 7.3 3.3 109.7 3.9 92.3 3.3 91.6 1.6 64.3 9.4 195.7 2.8 47.5 2.7 33.6 2.8 19 1.6 7.5 2.8 9.2 1.6 4 2.8 4.1 2.2 2.3 2.2 1.5 7.1 1.5 4.4 .1 24.3-1.1 15.4-1.8 24.8-5.5 7.1-1.2 3.9-.3 9.4 1.1 13.7 3.5 13.8 2.9 4.4 .6 15.4-.4 22.6-2.2 16.5-2 10.5-.3 9.4 .6 20.4 2.3 15.9 1.2 2.2 .8 4.4 2.4 2.8 .6 10.5-.1 6-1.3 2.8-1.2 3.8-4.4 3.9-2 1.6 0 3.3 3.4 1.1 .2 4.4-2.9 7.8-1.1 1.6-1.4 3.9-6 6-12.2 3.3-8.4 5.5-18.3 2.8-11.7 1.6-10.2 6.1-50.1 2.2-24.3 1.1-4.4 1.1-2 1.1 1.1 1.7 3.1 .5 .3 .6-.7 1.6-6.3 1.7-14.2 .5 1.3 1.7 23.4 1.1 8.3 .5 1.1 3.3 1.1 .6 1.4 2.7 30.8 3.3 47.1 1.7 14.7 3.8 20.7 2.2 5.3 3.4 4.2 2.2 1.4 9.3 0 5.5 1.6 1.7 1.3 3.3 4.6 3.3 2 2.7 .9 10.5-.7 3.9-3.8 1.1-.7 1.6 .5 2.8 2.1 1.6 .6 1.1-.2 3.9-2.3 1.6 .1 3.9 1 1.6 0 1.7-.7 3.8-2.3 3.9-3.3 2.2-.7 1.1 1.1 2.2 4 1.1 1 9.9 .7 7.2 1.4 7.2 2 10.4 4.5 4.4 1.3 2.8 .2 13.7-.4 18.8-1.3" stroke="#000080"/>
</g>
<rect x="290.9" y="3047.5" width="9.2" height="21" fill="#000"/>
<text x="297.0" y="3141.5" font-size="73.657" text-anchor="middle" font-family="Liberation Serif, serif" font-weight="bold" style="font-kerning:none">1000</text>
<rect x="566.3" y="3047.5" width="9.2" height="21" fill="#000"/>
<text x="572.4" y="3141.5" font-size="73.657" text-anchor="middle" font-family="Liberation Serif, serif" font-weight="bold" style="font-kerning:none">1500</text>
<rect x="841.7" y="3047.5" width="9.2" height="21" fill="#000"/>
<text x="847.8" y="3141.5" font-size="73.657" text-anchor="middle" font-family="Liberation Serif, serif" font-weight="bold" style="font-kerning:none">2000</text>
<rect x="1117.1" y="3047.5" width="9.2" height="21" fill="#000"/>
<text x="1123.2" y="3141.5" font-size="73.657" text-anchor="middle" font-family="Liberation Serif, serif" font-weight="bold" style="font-kerning:none">2500</text>
<rect x="1392.5" y="3047.5" width="9.2" height="21" fill="#000"/>
<text x="1398.6" y="3141.5" font-size="73.657" text-anchor="middle" font-family="Liberation Serif, serif" font-weight="bold" style="font-kerning:none">3000</text>
<rect x="1667.9" y="3047.5" width="9.2" height="21" fill="#000"/>
<text x="1674.0" y="3141.5" font-size="73.657" text-anchor="middle" font-family="Liberation Serif, serif" font-weight="bold" style="font-kerning:none">3500</text>
<rect x="1943.3" y="3047.5" width="9.2" height="21" fill="#000"/>
<text x="1949.4" y="3141.5" font-size="73.657" text-anchor="middle" font-family="Liberation Serif, serif" font-weight="bold" style="font-kerning:none">4000</text>
<rect x="428.6" y="3047.5" width="9.2" height="9" fill="#000"/>
<rect x="704.0" y="3047.5" width="9.2" height="9" fill="#000"/>
<rect x="979.4" y="3047.5" width="9.2" height="9" fill="#000"/>
<rect x="1254.8" y="3047.5" width="9.2" height="9" fill="#000"/>
<rect x="1530.2" y="3047.5" width="9.2" height="9" fill="#000"/>
<rect x="1805.6" y="3047.5" width="9.2" height="9" fill="#000"/>
<text x="763.0" y="3249.4" font-size="95.9" font-family="Liberation Serif, serif" font-weight="bold" style="font-kerning:none" textLength="551.7" lengthAdjust="spacing">Wavenumber</text>
<text x="1336.9 1368.4 1409.8" y="3249.4" font-size="95.9" font-family="Liberation Serif, serif" font-weight="bold" style="font-kerning:none">(cm</text>
<text x="1488.0" y="3209.4" font-size="62.6" font-family="Liberation Serif, serif" font-weight="bold" style="font-kerning:none" textLength="53.5" lengthAdjust="spacing">-1</text>
<text x="1541.4" y="3249.4" font-size="95.9" font-family="Liberation Serif, serif" font-weight="bold" style="font-kerning:none" textLength="31.9" lengthAdjust="spacing">)</text>
<text transform="translate(163.2,2395) rotate(-90)" font-size="95.85499999999999" text-anchor="middle" font-family="Liberation Serif, serif" font-weight="bold" style="font-kerning:none" textLength="477" lengthAdjust="spacing">Absorbance</text>
<text x="59" y="1740.4" font-size="94.84599999999999" font-family="Liberation Serif, serif" font-weight="bold" style="font-kerning:none" textLength="126" lengthAdjust="spacing">(B)</text>
<line x1="649.8" y1="1753.8" x2="790.2" y2="1753.8" stroke="#000000" stroke-width="9.2" stroke-linecap="round"/>
<text x="804.5" y="1776.4" font-size="63.56699999999999" font-family="Liberation Serif, serif" font-weight="bold" style="font-kerning:none" textLength="339.275" lengthAdjust="spacing">Dark 40 min</text>
<line x1="649.8" y1="1832.3" x2="790.2" y2="1832.3" stroke="#ff0000" stroke-width="9.2" stroke-linecap="round"/>
<text x="804.5" y="1854.9" font-size="63.56699999999999" font-family="Liberation Serif, serif" font-weight="bold" style="font-kerning:none" textLength="307.5" lengthAdjust="spacing">Light 1 min</text>
<line x1="649.8" y1="1910.8" x2="790.2" y2="1910.8" stroke="#0000ff" stroke-width="9.2" stroke-linecap="round"/>
<text x="804.5" y="1933.4" font-size="63.56699999999999" font-family="Liberation Serif, serif" font-weight="bold" style="font-kerning:none" textLength="343.37499999999994" lengthAdjust="spacing">Light 60 min</text>
<line x1="649.8" y1="1989.3" x2="790.2" y2="1989.3" stroke="#ff00ff" stroke-width="9.2" stroke-linecap="round"/>
<text x="804.5" y="2011.9" font-size="63.56699999999999" font-family="Liberation Serif, serif" font-weight="bold" style="font-kerning:none" textLength="377.2" lengthAdjust="spacing">Light 120 min</text>
<line x1="649.8" y1="2067.8" x2="790.2" y2="2067.8" stroke="#008000" stroke-width="9.2" stroke-linecap="round"/>
<text x="804.5" y="2090.4" font-size="63.56699999999999" font-family="Liberation Serif, serif" font-weight="bold" style="font-kerning:none" textLength="377.2" lengthAdjust="spacing">Light 180 min</text>
<line x1="649.8" y1="2146.3" x2="790.2" y2="2146.3" stroke="#000080" stroke-width="9.2" stroke-linecap="round"/>
<text x="804.5" y="2168.9" font-size="63.56699999999999" font-family="Liberation Serif, serif" font-weight="bold" style="font-kerning:none" textLength="377.2" lengthAdjust="spacing">Light 240 min</text>
<text x="783" y="2286.6" font-size="57.51299999999999" font-family="Liberation Serif, serif" font-weight="bold" style="font-kerning:none" textLength="240" lengthAdjust="spacing">CH<tspan font-size="41.4" dy="15.5">3</tspan><tspan dy="-15.5">CHO</tspan></text>
<line x1="821.1" y1="2302.7" x2="744.7" y2="2413.0" stroke="#f00" stroke-width="13" stroke-linecap="butt"/>
<polygon points="712.4,2456.3 736.9,2396.1 763.4,2415.3" fill="#f00" stroke="#f00" stroke-width="11" stroke-linejoin="round"/>
<rect x="210.5" y="3317" width="1749.2" height="1384.6999999999998" fill="none" stroke="#000" stroke-width="9.2"/>
<clipPath id="clipC"><rect x="210.5" y="3317" width="1749.2" height="1384.6999999999998"/></clipPath>
<g fill="none" stroke-width="9.2" stroke-linejoin="round" stroke-linecap="round" clip-path="url(#clipC)">
<path d="M211.2 4474.5l.5-.6 .6 .6 .5-.6 1.2-9.1 1.1 12 .5-.1 1.1-14.8 .6 1.7 1.1 12.4 1.1-13.2 .6-2.8 1.1 13.7 .5 .3 1.1-14.1 .6 2.1 1.1 13.1 1.1-12.7 .6-2.6 1.1 13.9 .5 .3 1.1-14.1 .6 2.1 1.1 13.9 1.1-9.5 .6 .4 1.1 14.9 1.1 3 1.7 14.4 5.5 71.1 1.1 10.6 1.7 7.8 1.7 5.2 5.5 13.2 2.8 4.7 2.2 2.1 2.2 1.5 3.9 1.6 2.8 .7 1.1-.1 1.7-.9 3.9-3.9 3.3-5.6 3.3-7.6 7.8-22.6 1.7-6.1 1.1-5.6 6.7-56.3 2.7-29.1 4.5-60.1 2.7-54.9 2.3-75.1 2.7-69.9 2.3-122.2 2.2-163.8 1.7-77 1.1-28.7 1.1-59.3 .5-8.2 1.1-9.2 2.3-10.9 .5-1.6 .6 .5 1.6 64.3 .6 9.7 .6-5.7 .5-13.8 1.7-53.6 .5-10.2 .6-1 4.4 62.1 1.1 24.6 2.8 166.2 2.8 115.5 1.1 110.9 2.8 66.2 3.3 50.2 5.6 118.6 5 82.5 3.3 37 2.2 19.4 2.8 14.7 1.1 4.1 1.7 4.1 2.2 4.2 1.7 2.3 2.2 1.9 3.3 2.2 2.8 1.1 2.8 0 3.9-2 3.3-2.8 3.3-5.1 4.5-8.9 2.7-7 2.3-7.5 1.6-7.4 1.1-7.5 4.5-41.9 1.7-22.5 2.2-43.5 2.2-24.2 1.1-4.8 .6 .8 1.1 7.2 2.2 19.8 .5 2.7 .6 .7 .6-1.1 1.1-5.8 3.9-32.6 1.1-4.7 .5-.4 1.1 6 2.8 31.9 2.2 32.1 2.3 25 3.8 58.4 2.8 20.9 2.8 11.3 1.1 3.2 1.1 2 3.9 2.8 2.8 1.2 2.2 .4 2.2-.1 2.2-.7 5-3.2 1.7-1.8 2.8-4.5 6.7-13 6.6-17.3 2.2-8.5 1.7-9.3 5.6-59.1 5-90.4 1.1-31.5 .5-4.6 1.7 .7 1.1 1 .6 1.4 1.6 17.9 .6-2.5 2.2-65.2 .6 3 2.7 55.7 .6-2.7 2.2-38.6 1.1-12.5 1.1 48.4 1.1 25.2 2.3 36.1 3.3 64.7 1.7 20.3 1.1 6 1.1 3.8 1.7 3.4 3.3 3 1.1 .4 1.1-.1 1.7-3.6 3.3-11.7 .6-1.5 .5-.2 1.7 14.4 1.1 20.3 1.7 9.1 1.1 1.7 1.6 1.3 1.1 .4 5.6 .1 1.1 1.1 3.3 6.8 2.8 8 3.4 7.6 1.1 1.3 4.4 3.8 7.2 12.5 3.4 4.1 1.6 1.2 2.2-.2 3.9-1.8 3.4-.9 6.1-.9 2.2 .5 5.6 2.4 7.2 .8 59.4-.6 48.9 1 27.2 1.2 27.2 2.4 4.4-.6 16.7-5 5.6-.9 5 .8 16.6 5.8 4.5 .7 10.5-.5 14.5-1.5 27.2-5.5 9.4-1 3.9 .7 10.6 4.5 4.4 .8 15.6-.2 2.7-.7 6.7-2.3 3.3-.6 5 .2 13.4 1.8 5.5 .3 8.3-.5 18.9-2.1 8.4-.3 27.2 .4 21.1 1 49.4-.4 41.7 2.6 9.4 .1 10-.4 15.5-1.4 8.9-1.5 17.3-4.4 10.5-3.5 10-4.6 10.6-6.8 8.8-4.6 2.3-1.5 5.5-5.4 6.1-3.9 4.5-1.9 7.7-1.6 3.9-1.2 5-2.4 5-3.2 3.9-3.6 4.5-5.1 3.8-5.2 3.4-5.3 4.4-8.9 7.8-19.6 1.7-5.8 1.1-5.6 8.3-53.6 1.7-16.6 1.6-25.3 5-104.6 4.5-62.6 2.2-45.6 3.9-63 1.1-12.9 3.3-19.3 1.7-17.4 2.2-33.8 1.7-38 1.1 30 .6 7.4 3.8 36.9 1.7 23.9 .6 3.2 1.1 3.2 2.2 4.4 2.2 18.1 1.7 6.2 1.1 2.2 1.1 .4 1.7-2.7 1.6-5.4 3.4-14 1.1-9 2.2-25.8 2.8-40.5 4.4-73.2 3.4-79 1.1-17.8 .5-4.5 .6 2 .5 5.3 2.3 25 .5 .6 .6-2.6 2.7-27.4 .6-2.3 .6 7.8 3.3 116.6 3.9 98.3 3.3 97.3 1.7 68.4 9.4 208.2 2.8 50.5 2.8 35.7 2.7 20.2 1.7 8.1 2.8 9.8 2.2 5.3 2.8 4 2.2 2.3 1.7 1.1 3.9 1.1 3.9 .7 4.4 .1 25-1.2 14.4-1.7 24.5-5.8 7.2-1.3 3.9-.3 10 1.2 15.5 4.1 12.8 2.9 4.4 .6 13.9-.3 25-1.5 17.8-2.9 11.1-.7 26.7 1.2 16.6 .3 2.2 .6 4.5 2.1 2.2 .4 11.7-.8 6.1-1.5 2.2-1 3.9-4.3 3.9-2 1.6 0 3.4 3.1 1.1 .3 4.4-3 7.8-1.2 1.7-1.3 3.9-5.9 6.1-11.8 3.3-8.1 5.6-17.7 2.7-11.2 1.7-9.8 6.1-48.1 2.2-23.3 1.1-4.3 1.1-1.9 1.2 1 1.6 3 .6 .2 .5-.7 1.7-6 1.7-13.7 .5 1.2 1.7 22.4 1.1 7.9 .6 1.1 3.3 1 .5 1.3 2.8 29.5 3.4 44.9 1.6 14.1 3.9 19.6 2.2 5.1 3.4 3.9 2.2 1.3 9.4-.2 5.6 1.4 1.6 1.2 3.4 4.3 3.3 1.9 2.8 .8 5.5-.4 5-.9 3.9-4 1.1-.7 1.7 .3 2.8 1.9 1.6 .5 1.2-.4 3.8-2.5 1.7-.1 3.9 .7 1.7-.1 5.5-3.3 3.9-3.5 2.2-.8 1.1 1 2.3 3.6 1.1 .9 11.1-.1 11.6 1.8 4.5 1.2 8.9 3.6 3.9 1 17.7-.3 17.3-1" stroke="#000000"/>
<path d="M211.2 4447.2l1.1-16.5 1.7-13.2 2.7-14.7 4.5-18 1.1-2.5 .5 0 2.3 16.1 .5 1.3 .6-1.5 2.2-12.7 2.2-6.8 1.1-2.5 1.1-1.2 2.3 .3 2.2 1.2 1.1 1.3 1.7 6.7 1.6 19.3 2.8 54.4 1.7 21.9 1.1 9.1 2.8 16.2 1.6 6.3 2.2 5.6 2.3 3.2 2.7 2.8 2.8 1.6 2.8 .8 2.2 .2 2.2-.6 3.4-1.7 2.7-2.4 2.8-3.2 2.8-4.4 2.2-4.6 2.2-5.9 1.2-4.9 2.7-17.4 2.3-18.9 2.7-32 5.6-82 1.7-19 1.1-24.8 2.7-38.1 1.7-44.6 1.7-67.2 2.7-40 2.3-119.2 2.2-156.1 1.7-70 1.1-27 1.1-58.9 .5-8.2 1.1-9.1 2.3-10.9 .5-1.5 .6 .4 1.6 64 .6 9.7 .6-5.7 .5-13.7 1.7-53.4 .5-10.2 .6-.9 4.4 61.8 1.1 24.5 2.8 165.3 2.8 114.9 1.1 110.4 2.8 65.8 3.3 49.9 5.6 118.1 5 82.1 3.3 36.8 2.2 19.2 2.8 14.7 1.1 4 1.7 4.2 2.2 4.2 1.7 2.2 2.2 1.9 3.3 2.2 2.8 1.1 2.8 0 3.9-2 3.3-2.8 3.3-5 4.5-8.8 2.7-6.9 2.3-7.4 1.6-7.4 1.1-7.4 4.5-41.5 1.7-22.2 2.2-43 2.2-24.1 1.1-4.7 .6 .8 1.1 7.1 2.2 19.7 .5 2.6 .6 .7 .6-1.1 1.1-5.8 3.9-32.1 1.1-4.8 .5-.3 1.1 5.9 2.8 31.5 2.2 31.8 2.3 24.8 3.8 57.8 2.8 20.6 2.8 11.3 1.1 3.1 1.1 2 3.9 2.8 2.8 1.1 2.2 .5 2.2-.1 2.2-.8 5-3.1 1.7-1.7 2.8-4.4 6.7-12.8 6.6-16.9 2.2-8.3 1.7-9.2 5.6-57.8 5-88.7 1.1-30.9 .5-4.4 1.7 .7 1.1 1 .6 1.3 1.6 17.5 .6-2.4 2.2-63.9 .6 3 2.7 54.5 .6-2.6 2.2-37.9 1.1-12.2 1.1 47.4 1.1 24.7 2.3 35.4 3.3 63.4 1.7 19.8 1.1 6 1.1 3.6 1.7 3.4 3.3 2.9 1.1 .5 1.1-.1 1.7-3.5 3.3-11.6 .6-1.5 .5-.1 1.7 14.1 1.1 19.9 1.7 9 1.1 1.6 1.6 1.3 1.1 .3 5.6 .1 1.1 1.1 3.3 6.6 2.8 7.9 3.4 7.5 1.1 1.3 4.4 3.6 7.2 12.4 3.4 3.9 1.6 1.2 2.2-.2 3.9-1.8 3.4-.8 6.1-.9 2.2 .5 5.6 2.3 6.1 .7 59.9 .6 47.8 2 27.8 1.9 11.1 1 12.8 1.7 5 .4 4.4-.6 16.7-4.6 5-.6 5.5 1.1 16.7 6.2 2.2 .5 2.8 .2 10.5-.4 13.9-1.2 15.6-3 20-3.1 4.4 .4 10.6 4 4.4 .6 15.6-1 2.7-.8 6.7-2.8 3.3-.7 5-.1 13.4 1.2 5.5 0 7.8-.8 21.6-3.4 20-1.1 22.8-.6 58.3-.3 12.2 .5 32.8 2.2 9.5 .1 10-.5 14.9-1.3 9.5-1.6 17.2-4.5 10-3.4 10-4.6 10.6-6.8 8.8-4.6 2.3-1.6 5.5-5.4 6.1-4 4.5-1.8 7.7-1.7 3.9-1.2 4.5-2.1 5-3.1 3.3-2.8 4.5-5 3.8-5 3.9-6 4.5-8.6 7.7-19.4 2.3-7.4 1.1-5.7 8.3-53.9 1.7-16.8 1.6-25.4 5-105.3 4.5-63.1 2.2-45.8 3.9-62.9 1.1-12.4 3.3-15.5 2.3-20.4 1.6-24.4 1.7-37.6 1.1 29.5 .6 6.7 3.8 30.1 1.7 22 .6 2.8 3.3 6.3 .6 2.8 1.6 15.4 2.2 8.3 1.7 3.9 .6 .7 1.1 .2 1.6-1.6 1.7-3.7 1.7-5.6 1.1-8.8 2.2-25.1 2.8-39.5 4.4-71.3 3.4-76.9 1.1-17.4 .5-4.4 .6 2 .5 5.1 2.3 24.4 .5 .6 .6-2.6 2.7-26.6 .6-2.3 .6 7.6 3.3 113.6 3.9 95.8 3.3 94.8 1.7 66.7 9.4 202.8 2.8 49.2 2.8 34.8 2.7 19.7 1.7 7.9 2.8 9.5 1.7 4.2 2.7 4.2 2.8 3 2.2 1.2 6.1 1.4 6.1 .2 25-1.1 8.4-.8 9.4-1.6 21.1-5 7.2-1.2 3.9-.2 9.5 1.2 14.4 3.7 13.3 3 4.5 .6 13.3-.2 24.5-1.5 19.4-2.6 10-.4 8.3 .4 19.5 1.6 16.6 .8 2.2 .7 4.5 2.2 2.2 .5 11.7-.5 5.5-1.2 2.8-1.1 3.9-4.4 3.9-1.9 1.6 0 3.4 3.3 1.1 .2 4.4-2.9 7.8-1 1.7-1.4 3.9-5.9 6.1-11.9 3.3-8.2 5.6-17.9 2.7-11.4 1.7-10 6.1-48.9 2.2-23.7 1.1-4.3 1.1-1.9 1.2 1 1.6 3 .6 .3 .5-.7 1.7-6.1 1.7-13.9 .5 1.2 1.7 22.9 1.1 8.1 .6 1 3.3 1.2 .5 1.3 2.8 30.1 3.4 46 1.6 14.3 3.9 20.2 2.2 5.1 3.4 4.2 2.2 1.3 9.4 0 5.6 1.6 1.6 1.2 3.4 4.5 3.3 1.9 2.8 .9 10.5-.4 3.9-3.7 1.1-.5 1.7 .5 2.8 2.2 1.6 .7 1.2-.3 3.8-2.1 1.7 .2 3.9 1.1 1.7 .1 5-2.4 4.4-3.4 1.7-.6 1.1 .4 2.8 4.7 1.1 1 8.9 .9 15 2.4 3.8 1.1 7.8 3 3.9 1 2.8 .1 13.9-.8 18.9-1.8" stroke="#ff0000"/>
<path d="M211.2 4360.8l1.1-16.3 1.7-13 2.7-14.5 5-19.3 .6-1 .5 0 2.3 16 .5 1.2 .6-1.4 2.2-12.6 3.3-9.1 1.1-1.3 1.1 0 1.7 .5 2.2 1.5 .6 .8 1.1 3.7 2.2 12.9 1.1 11.7 3.9 57.4 1.7 18.3 2.2 17.8 2.8 10.8 1.1 2.7 1.7 2.8 2.2 2.9 2.2 2 1.7 .9 2.2 .4 6.7 .6 5-.5 5-1.7 1.1-1.3 1.1-2.1 1.6-4.5 .6-2.6 5-43.6 2.8-35.1 6.1-118.2 1.7-16.2 1.6-44 1.7-12.9 1.1-18.4 2.8-110.6 .5-2 1.7-2 .5-6.4 2.3-115.3 1.6-120.4 1.7-71.4 1.7-43 1.1-58 .5-8.1 1.1-9 2.3-10.7 .5-1.6 .6 .5 1.6 63.1 .6 9.6 .6-5.7 .5-13.5 1.7-52.7 .5-10 .6-.9 4.4 61 1.1 24.1 2.8 163.1 2.8 113.3 1.1 108.9 2.8 64.9 3.3 49.3 5.6 116.4 5 81 3.3 36.3 2.2 19 2.8 14.4 1.1 4 1.7 4.1 2.2 4.1 1.7 2.3 5.5 4 2.8 1.1 2.8-.1 3.9-1.8 3.3-2.8 3.3-4.9 4.5-8.5 2.7-6.7 2.3-7.2 1.6-7.1 1.1-7.2 4.5-40.2 1.7-21.6 2.2-41.7 2.2-23.2 1.1-4.6 .6 .8 1.1 6.8 2.2 19.1 .5 2.6 .6 .6 .6-1.1 1.1-5.5 3.9-31.2 1.1-4.6 .5-.4 1.1 5.8 2.8 30.6 2.2 30.8 2.3 24 3.8 56 2.8 20 2.8 10.9 1.1 3.1 1.1 1.9 3.9 2.7 2.8 1.1 2.2 .4 2.2-.1 2.2-.8 5-3.1 1.7-1.7 2.8-4.5 6.7-12.7 6.6-16.9 2.2-8.4 1.7-9.2 5.6-57.9 5-88.7 1.1-30.9 .5-4.5 1.7 .7 1.1 1 .6 1.4 1.6 17.5 .6-2.5 2.2-63.9 .6 3 2.7 54.6 .6-2.7 2.2-37.8 1.1-12.3 1.1 47.5 1.1 24.7 2.3 35.4 3.3 63.4 1.7 19.9 1.1 6 1.1 3.7 1.7 3.3 3.3 2.9 1.1 .5 1.1-.1 1.7-3.5 3.3-11.5 .6-1.5 .5-.2 1.7 14.1 1.1 19.9 1.7 9 1.1 1.6 1.6 1.3 1.1 .4 5.6 .1 1.1 1 3.3 6.7 2.8 7.9 3.4 7.4 1.1 1.4 4.4 3.6 7.2 12.3 3.4 4 1.6 1.2 2.2-.2 3.9-1.8 3.4-.8 6.1-.9 2.2 .5 5.6 2.3 5 .6 38.3 .5 28.9-3.4 6.6-2.1 6.1-3.2 2.3-.7 2.7-.4 8.4 .2 6.1-1.5 2.2 .7 2.8 2.1 3.9 3.6 4.4 2.6 13.9 3.6 15 3.1 18.9 2.4 6.1 .2 3.9-.7 16.1-4.4 5.5-.6 4.5 .9 16.6 6.2 3.9 .8 10.6-.2 15-1.2 16.1-3 20-3.1 4.4 .5 10.6 4 4.4 .7 15.6-.9 2.7-.7 6.7-2.7 3.3-.8 5 0 13.4 1.3 5.5 .1 7.8-.8 21.6-3.2 18.9-.9 23.9-.4 57.8 .2 12.2 .5 33.9 2.5 9.4 .1 10.6-.4 14.4-1.2 8.9-1.5 17.2-4.3 10-3.3 10-4.4 10.6-6.7 8.8-4.5 2.3-1.6 5.5-5.3 6.1-3.9 4.5-1.8 7.7-1.5 3.9-1.2 4.5-2.1 5-3 3.3-2.8 4.5-4.9 3.8-4.9 3.9-6 4.5-8.4 7.7-19.2 2.3-7.3 1.1-5.7 8.3-53.4 1.7-16.5 1.6-25.3 5-104.3 4.5-62.5 2.2-45.4 3.9-62.4 1.1-12.3 3.3-15.3 2.3-20.2 1.6-24.2 1.7-37.2 1.1 29.2 .6 6.7 3.8 29.8 1.7 21.8 .6 2.8 3.3 6.3 2.2 18 2.2 8.3 1.7 3.8 .6 .6 1.1 .1 1.6-1.7 1.7-3.7 1.7-5.7 1.1-8.7 2.2-24.9 2.8-39.2 4.4-70.7 3.4-76.4 1.1-17.3 .5-4.3 .6 2 .5 5 2.3 24.3 .5 .5 .6-2.5 2.7-26.4 .6-2.2 .6 7.5 3.3 112.8 3.9 95.1 3.3 94.2 1.7 66.2 9.4 201.4 2.8 48.9 2.8 34.5 2.7 19.6 1.7 7.9 2.8 9.5 1.7 4.1 2.7 4.2 2.3 2.5 2.2 1.5 5 1.4 5 .6 27.2-.9 8.3-.8 10-1.5 21.1-4.8 6.7-1.1 3.9-.2 10 1.2 15 4 13.3 3 4.4 .6 13.4-.2 25-1.4 18.3-2.7 10.5-.6 27.3 1.6 16.6 .5 2.2 .7 4.5 2.2 2.2 .5 11.7-.7 6.1-1.5 2.2-.9 3.9-4.4 3.9-2 1.6 0 3.4 3.2 1.1 .3 4.4-3 7.8-1.1 1.7-1.4 3.9-6 6.1-12.1 3.3-8.2 5.6-18.2 2.7-11.5 1.7-10.1 6.1-49.4 2.2-23.9 1.1-4.4 1.1-2 1.2 1.1 1.6 3 .6 .3 .5-.7 1.7-6.2 1.7-14 .5 1.2 1.7 23.1 1.1 8.1 .6 1.1 3.3 1.1 .5 1.3 2.8 30.4 3.4 46.3 1.6 14.4 3.9 20.3 2.2 5.2 3.4 4.2 2.2 1.3 9.4-.1 5.6 1.5 1.6 1.3 3.4 4.4 3.3 2 2.8 .9 10.5-.5 1.2-.7 2.7-2.9 1.1-.6 1.7 .6 2.8 2.2 1.6 .7 1.2-.2 3.8-2.1 1.7 .1 3.9 1.2 1.7 .1 5-2.4 4.4-3.3 1.7-.6 1.1 .4 2.8 4.7 1.1 1.1 8.9 .9 15 2.4 3.8 1.2 7.8 2.9 3.9 1 2.8 .1 13.9-.9 18.9-1.9" stroke="#0000ff"/>
<path d="M211.2 4274.2l1.1-15.9 1.7-12.8 2.7-14.2 5-19 .6-.9 .5 0 2.3 15.7 .5 1.1 .6-1.3 2.2-12.4 3.3-8.9 1.1-1.3 1.1 0 1.7 .6 2.2 1.4 .6 .8 1.1 3.6 2.2 12.7 1.1 11.5 3.9 56.2 1.7 18 2.2 17.4 2.8 10.6 1.1 2.7 1.7 2.7 2.2 2.9 2.2 2 1.7 .8 2.2 .4 6.7 .6 5-.5 5-1.7 1.1-1.2 1.1-2.1 1.6-4.4 .6-2.6 5-42.7 2.8-34.4 6.1-116 1.7-15.9 1.6-43.1 1.7-12.7 1.1-18.1 2.8-108.5 .5-1.9 1.7-2 .5-6.3 2.3-113 1.6-118.1 1.7-70.1 1.7-42.1 1.1-57 .5-7.9 1.1-8.9 2.3-10.4 .5-1.6 .6 .5 1.6 61.9 .6 9.3 .6-5.5 .5-13.2 1.7-51.7 .5-9.8 .6-.9 4.4 59.8 1.1 23.7 2.8 159.9 2.8 111.2 1.1 106.8 2.8 63.7 3.3 48.3 5.6 114.2 5 79.5 3.3 35.6 2.2 18.6 2.8 14.2 1.1 3.9 1.7 4 2.2 4.1 1.7 2.1 5.5 4 2.8 1 2.8 0 3.9-1.8 3.3-2.7 3.3-4.8 4.5-8.2 2.7-6.6 2.3-7 1.6-6.9 1.1-6.9 4.5-39.2 1.7-21 2.2-40.5 2.2-22.7 1.1-4.5 .6 .8 1.1 6.7 2.2 18.6 .5 2.5 .6 .6 .6-1.1 1.1-5.4 3.9-30.3 1.1-4.5 .5-.3 1.1 5.6 2.8 29.7 2.2 30 2.3 23.3 3.8 54.5 2.8 19.5 2.8 10.6 1.1 3 1.1 1.8 3.9 2.7 2.8 1.1 2.2 .4 2.2-.2 2.2-.7 5-3.1 2.3-2.5 8.9-16.2 6.6-16.7 2.2-8.2 1.7-9.1 5.6-57.1 5-87.5 1.1-30.5 .5-4.4 1.7 .7 1.1 1 .6 1.3 1.6 17.3 .6-2.5 2.2-63 .6 2.9 2.7 53.9 .6-2.6 2.2-37.4 1.1-12.1 1.1 46.8 1.1 24.5 2.3 34.9 3.3 62.5 1.7 19.7 1.1 5.9 1.1 3.6 1.7 3.3 3.3 2.9 1.1 .4 1.1-.1 1.7-3.5 3.3-11.3 .6-1.5 .5-.1 1.7 13.8 1.1 19.7 1.7 8.9 1.1 1.6 1.6 1.2 1.1 .4 5.6 .1 1.1 1 3.3 6.6 2.8 7.8 3.4 7.3 1.1 1.3 4.4 3.6 7.2 12.2 3.4 3.9 1.6 1.2 2.2-.2 3.9-1.7 3.4-.9 6.1-.9 2.2 .5 5.6 2.4 5 .5 38.3 .7 28.9-5.6 2.7-1.3 3.9-2.5 2.2-1.6 3.9-4 2.3-1.2 2.7-.8 8.4 .3 4.4-2.2 1.7-.5 1.1 .2 1.1 1 2.8 3.4 3.9 6.1 2.2 2.4 2.2 1.8 3.9 1.9 9.4 3.6 13.9 4.2 19.5 2.8 6.6 .5 4.5-.6 16.1-4.3 5.5-.5 4.5 1 16.6 6.2 3.9 .9 11.1-.2 15-1 15.6-2.8 20.5-2.9 3.9 .4 10.6 3.9 4.4 .6 15.6-1.1 2.7-.7 6.7-2.7 3.3-.8 5 0 13.4 1.1 5.5 0 7.8-.8 22.2-3.5 24.4-1.1 17.8-.4 58.3-.1 12.2 .5 32.8 2.4 9.5 .2 10-.4 14.9-1.2 9.5-1.5 17.2-4.3 10-3.2 10-4.4 10.6-6.6 8.8-4.4 2.3-1.5 5.5-5.3 6.1-3.8 4.5-1.8 7.7-1.5 3.9-1.2 4.5-2 5-3 3.3-2.7 4.5-4.8 3.8-4.9 3.9-5.8 4.5-8.3 7.7-18.9 2.3-7.2 1.1-5.5 8.3-52.5 1.7-16.3 1.6-24.8 5-102.6 4.5-61.4 2.2-44.6 3.9-61.3 1.1-12.1 3.3-15.1 2.3-19.8 1.6-23.7 1.7-36.7 1.1 28.7 .6 6.6 3.8 29.3 1.7 21.5 .6 2.7 3.3 6.2 2.2 17.7 2.2 8.1 1.7 3.4 .6 .5 1.1 0 1.6-2 1.7-4 1.7-5.7 1.1-8.5 2.2-24.6 2.8-38.6 4.4-69.7 3.4-75.3 1.1-17 .5-4.3 .6 2 .5 4.9 2.3 24 .5 .5 .6-2.5 2.7-26 .6-2.2 .6 7.4 3.3 111.2 3.9 93.7 3.3 92.8 1.7 65.2 9.4 198.5 2.8 48.2 2.8 34 2.7 19.3 1.7 7.7 2.8 9.4 1.7 4.1 2.7 4.1 2.8 3 2.2 1.2 6.1 1.4 6.1 .3 25-1 8.4-.7 9.4-1.5 21.1-4.7 7.2-1.2 3.9-.1 9.5 1.2 13.9 3.6 13.8 3 4.5 .7 13.3-.1 25-1.6 18.9-2.7 10.5-.5 27.3 2 16.6 .6 2.2 .7 4.5 2.3 2.2 .5 12.2-.6 5.6-1.4 2.2-.9 3.9-4.5 3.9-1.9 1.6 0 3.4 3.4 1.1 .3 4.4-3 7.8-1 1.7-1.4 3.9-6.1 6.1-12.2 3.3-8.5 5.6-18.5 2.7-11.8 1.7-10.4 6.1-50.6 2.2-24.5 1.1-4.5 1.1-2 1.2 1.1 1.6 3.1 .6 .3 .5-.7 1.7-6.3 1.7-14.4 .5 1.3 1.7 23.7 1.1 8.4 .6 1.1 3.3 1.2 .5 1.4 2.8 31.3 3.4 47.7 1.6 14.8 3.9 21 2.2 5.4 3.4 4.3 2.2 1.4 9.4 .1 5.6 1.7 1.6 1.3 3.4 4.6 3.3 2.1 2.8 1 10.5-.4 1.2-.7 2.7-3 1.1-.6 1.7 .5 2.8 2.3 1.6 .8 1.2-.3 3.8-2.1 1.7 .2 3.9 1.2 1.7 .1 5-2.5 4.4-3.4 1.7-.7 1.1 .5 2.8 4.9 1.1 1 8.3 .9 6.1 1.2 9.5 1.2 3.8 1.1 7.8 3 3.9 .9 2.8 .1 13.9-1.1 18.9-2.2" stroke="#ff00ff"/>
<path d="M211.2 4189.5l1.1-16 1.7-12.9 2.7-14.4 5-19.1 .6-.9 .5-.1 2.3 15.8 .5 1.2 .6-1.4 2.2-12.4 3.3-9.1 1.1-1.2 1.1 0 1.7 .5 2.2 1.5 .6 .8 1.1 3.7 2.2 12.7 1.1 11.6 3.9 56.8 1.7 18.1 2.2 17.6 2.8 10.7 1.1 2.7 1.7 2.8 2.2 2.8 2.2 2.1 1.7 .8 2.2 .4 6.7 .6 5-.5 5-1.7 1.1-1.3 1.1-2 1.6-4.5 .6-2.6 5-43.2 2.8-34.7 6.1-117 1.7-16 1.6-43.5 1.7-12.9 1.1-18.2 2.8-109.5 .5-1.9 1.7-2 .5-6.4 2.3-114.1 1.6-119.1 1.7-70.7 1.7-42.6 1.1-57.5 .5-8 1.1-8.9 2.3-10.5 .5-1.6 .6 .4 1.6 62.5 .6 9.5 .6-5.6 .5-13.4 1.7-52.1 .5-9.9 .6-.9 4.4 60.3 1.1 23.9 2.8 161.4 2.8 112.2 1.1 107.8 2.8 64.3 3.3 48.8 5.6 115.2 5 80.2 3.3 35.9 2.2 18.8 2.8 14.3 1.1 4 1.7 4 2.2 4.1 1.7 2.2 5.5 4 2.8 1 2.8 0 3.9-1.8 3.3-2.7 3.3-4.9 4.5-8.4 2.7-6.6 2.3-7.1 1.6-7 1.1-7 4.5-39.7 1.7-21.3 2.2-41.1 2.2-23 1.1-4.5 .6 .8 1.1 6.8 2.2 18.8 .5 2.5 .6 .6 .6-1 1.1-5.5 3.9-30.8 1.1-4.5 .5-.4 1.1 5.7 2.8 30.2 2.2 30.4 2.3 23.6 3.8 55.3 2.8 19.7 2.8 10.7 1.1 3.1 1.1 1.9 3.9 2.6 2.8 1.1 2.2 .4 2.2-.1 2.2-.7 5-3.1 1.7-1.7 2.8-4.4 6.7-12.7 6.6-16.7 2.2-8.3 1.7-9 5.6-57.3 5-87.8 1.1-30.6 .5-4.4 1.7 .7 1.1 1 .6 1.4 1.6 17.2 .6-2.4 2.2-63.2 .6 2.9 2.7 54 .6-2.6 2.2-37.5 1.1-12.1 1.1 47 1.1 24.5 2.3 35 3.3 62.7 1.7 19.7 1.1 5.9 1.1 3.6 1.7 3.4 3.3 2.8 1.1 .5 1.1-.1 1.7-3.5 3.3-11.4 .6-1.5 .5-.1 1.7 13.9 1.1 19.7 1.7 8.9 1.1 1.6 1.6 1.3 1.1 .3 5.6 .2 1.1 1 3.3 6.6 2.8 7.8 3.4 7.4 1.1 1.3 4.4 3.6 7.2 12.2 3.4 3.9 1.6 1.2 2.2-.2 3.9-1.7 3.4-.9 6.1-.9 2.2 .5 5.6 2.4 5.5 .6 37.8 .3 15-5.3 9.4-2.9 4.5-1.9 2.7-2.2 3.9-4.2 2.2-2.8 3.9-6.7 2.3-2.2 2.7-1.4 8.4 .1 1.6-1.1 2.8-2.8 1.7-.8 1.1 .4 1.6 2.5 2.8 5.8 2.8 7.2 2.8 5.1 2.2 2.8 3.3 2.6 12.2 6.7 13.4 5.3 20.5 2.6 3.9 .1 2.8-.4 17.2-4.6 5-.8 2.8 .2 2.8 .7 17.7 6.4 4.5 .5 10.5-.4 13.9-1.2 15.6-2.9 20-3.1 4.4 .5 10.6 4 4.4 .6 15.6-.9 2.7-.7 6.7-2.7 3.3-.7 5 0 13.4 1.2 5.5 .1 7.8-.8 21.6-3.2 17.8-.8 24.5-.4 21.6 .2 37.2-.3 12.2 .4 33.4 2.3 9.4 .1 10-.4 15-1.3 8.9-1.5 17.2-4.3 10-3.4 10-4.4 10.6-6.6 8.8-4.5 2.3-1.6 5.5-5.3 6.1-3.8 4.5-1.8 7.7-1.6 3.9-1.2 4.5-2 5-3.1 3.3-2.7 4.5-4.9 3.8-4.9 3.9-5.9 4.5-8.3 7.7-19 2.3-7.3 1.1-5.6 8.3-52.8 1.7-16.3 1.6-25 5-103.1 4.5-61.8 2.2-44.9 3.9-61.7 1.1-12.1 3.3-15.2 2.3-19.9 1.6-23.9 1.7-36.8 1.1 28.8 .6 6.7 3.8 29.4 1.7 21.5 .6 2.8 3.3 6.2 .6 2.7 1.6 15.1 2.2 8.1 1.7 3.5 .6 .5 1.1-.1 1.6-2 1.7-4 1.7-5.7 1.1-8.6 2.2-24.7 2.8-38.9 4.4-70.1 3.4-75.7 1.1-17.1 .5-4.3 .6 2 .5 5 2.3 24 .5 .5 .6-2.5 2.7-26.2 .6-2.2 .6 7.5 3.3 111.8 3.9 94.2 3.3 93.3 1.7 65.6 9.4 199.5 2.8 48.5 2.8 34.2 2.7 19.4 1.7 7.8 2.8 9.4 1.7 4.1 2.7 4.1 2.8 3 2.2 1.2 6.1 1.4 6.1 .2 25-1 8.4-.8 9.4-1.5 21.1-4.8 7.2-1.2 3.9-.2 9.5 1.2 13.9 3.6 13.8 3 4.5 .6 18.3-.4 21.7-1.4 16.6-1.8 9.5-.2 8.9 .7 20 2.4 16.6 1.3 2.2 .8 4.5 2.4 2.8 .6 10.5-.1 6.1-1.4 2.8-1.1 3.9-4.5 2.8-1.6 1.6-.5 1.1 .1 3.4 3.3 1.1 .2 4.4-2.9 7.8-1.2 1.7-1.4 3.9-6 6.1-12.1 3.3-8.4 5.6-18.2 2.7-11.6 1.7-10.1 6.1-49.6 2.2-24.1 1.1-4.4 1.1-2 1.2 1.1 1.6 3 .6 .3 .5-.7 1.7-6.2 1.7-14.1 .5 1.2 1.7 23.2 1.1 8.2 .6 1.1 3.3 1.1 .5 1.3 2.8 30.5 3.4 46.6 1.6 14.5 3.9 20.4 2.2 5.2 3.4 4.1 2.2 1.4 9.4-.1 5.6 1.5 1.6 1.3 3.4 4.4 3.3 2 2.8 .9 10.5-.5 1.2-.7 2.7-2.9 1.1-.6 1.7 .5 2.8 2.2 1.6 .8 1.2-.3 3.8-2.1 1.7 .2 3.9 1.2 1.7 .1 5-2.4 4.4-3.4 1.7-.7 1.1 .5 2.8 4.8 1.1 1 8.3 .9 6.1 1.1 10 1.3 11.1 3.7 3.9 .9 2.8 .1 13.3-1.2 19.5-2.3" stroke="#008000"/>
<path d="M211.2 4103.5l1.1-15.9 1.7-12.6 2.7-14.2 5-18.8 .6-.9 .5-.1 2.3 15.6 .5 1.2 .6-1.4 2.2-12.3 3.3-8.8 1.1-1.3 1.1 0 1.7 .6 2.2 1.4 .6 .8 1.1 3.6 2.2 12.5 1.1 11.5 3.9 55.8 1.7 17.9 2.2 17.3 2.8 10.5 1.1 2.7 1.7 2.7 2.2 2.8 2.2 2 1.7 .8 2.2 .4 6.7 .6 5-.5 5-1.6 1.1-1.3 1.1-2 1.6-4.4 .6-2.6 5-42.5 2.8-34.1 6.1-115.2 1.7-15.8 1.6-42.8 1.7-12.6 1.1-17.9 2.8-107.8 .5-1.9 1.7-2 .5-6.2 2.3-112.3 1.6-117.3 1.7-69.5 1.7-41.9 1.1-56.6 .5-7.9 1.1-8.7 2.3-10.4 .5-1.5 .6 .4 1.6 61.5 .6 9.3 .6-5.5 .5-13.2 1.7-51.3 .5-9.7 .6-.9 4.4 59.3 1.1 23.6 2.8 158.8 2.8 110.4 1.1 106.1 2.8 63.3 3.3 48 5.6 113.4 5 78.9 3.3 35.4 2.2 18.4 2.8 14.1 1.1 3.9 1.7 4 2.2 4 1.7 2.2 5.5 3.9 2.8 1 2.8 0 3.9-1.8 3.3-2.7 3.3-4.9 4.5-8.4 2.7-6.6 2.3-7.1 1.6-7 1.1-7.1 4.5-39.6 1.7-21.3 2.2-41.2 2.2-22.9 1.1-4.6 .6 .8 1.1 6.8 2.2 18.8 .5 2.5 .6 .6 .6-1 1.1-5.5 3.9-30.8 1.1-4.5 .5-.3 1.1 5.6 2.8 30.2 2.2 30.4 2.3 23.7 3.8 55.3 2.8 19.7 2.8 10.7 1.1 3.1 1.1 1.9 3.9 2.6 2.8 1.1 2.2 .4 2.2-.1 2.2-.7 5-3.2 2.3-2.5 8.9-16.4 6.6-16.8 2.2-8.4 1.7-9.1 5.6-57.8 5-88.5 1.1-30.8 .5-4.5 1.7 .7 1.1 1 .6 1.4 1.6 17.4 .6-2.4 2.2-63.8 .6 3 2.7 54.4 .6-2.6 2.2-37.8 1.1-12.2 1.1 47.3 1.1 24.7 2.3 35.4 3.3 63.2 1.7 19.9 1.1 5.9 1.1 3.7 1.7 3.3 3.3 2.9 1.1 .5 1.1-.1 1.7-3.5 3.3-11.5 .6-1.5 .5-.2 1.7 14.1 1.1 19.9 1.7 8.9 1.1 1.7 1.6 1.2 1.1 .4 5.6 .1 1.1 1.1 3.3 6.6 2.8 7.9 3.4 7.4 1.1 1.3 4.4 3.6 7.2 12.4 3.4 3.9 1.6 1.2 2.2-.2 3.9-1.8 3.4-.8 6.1-.9 2.2 .5 5.6 2.4 5 .5 38.3 .7 15-7.5 9.4-4 4.5-2.9 2.7-3.1 3.9-6.2 2.2-4.1 3.9-9.6 2.3-3.1 1.6-1.6 1.1-.6 8.4 .2 1.6-1.6 2.8-4 1.7-1.3 1.1 .6 1.1 2.1 2.8 8 3.9 14 2.2 5.6 2.2 4.1 3.9 4.1 8.9 7.1 5.5 3.7 7.2 4.1 3.9 1.8 17.8 2.4 6.1 .4 4.5-.7 16.1-4.3 5.5-.5 5 1.1 16.7 6.2 5 .7 10.5-.3 13.9-.9 15.6-2.7 20.5-2.8 3.9 .5 10.6 4 4.4 .7 15.6-.7 2.7-.7 6.7-2.5 3.3-.7 5 .1 13.4 1.3 5.5 .1 8.3-.7 19.5-2.7 11.1-.6 28.3-.3 23.3 .3 42.8-.8 36.7 1.9 11.1 .3 12.2-.5 16.6-1.6 8.9-1.5 11.1-2.7 11.2-3.2 9.4-3.7 6.7-3.1 10-6.4 9.4-4.8 7.2-6.4 6.1-3.9 4.5-1.8 7.7-1.6 3.9-1.3 4.5-2 5-3 3.3-2.8 4.5-4.8 3.8-4.8 3.9-5.8 4.5-8.3 7.7-18.6 2.3-7.2 1.1-5.4 8.3-51.8 1.7-16 1.6-24.4 5-100.9 4.5-60.4 2.2-44 3.9-60.3 1.1-11.9 3.3-14.8 2.3-19.6 1.6-23.3 1.7-36.1 1.1 28.2 .6 6.5 3.8 28.7 1.7 21.1 .6 2.7 3.3 6 .6 2.6 1.6 14.7 1.7 6.2 1.7 4 1.1 1 .5-.1 1.7-1.8 1.7-3.8 2.2-7.4 1.1-8.5 2.2-24.3 2.8-38.2 4.4-69 3.4-74.4 1.1-16.8 .5-4.2 .6 1.9 .5 4.9 2.3 23.6 .5 .5 .6-2.4 2.7-25.8 .6-2.2 .6 7.3 3.3 109.8 3.9 92.5 3.3 91.6 1.7 64.4 9.4 195.9 2.8 47.5 2.8 33.6 2.7 19 1.7 7.6 2.8 9.2 1.7 4 2.7 4.1 2.8 2.8 2.2 1.2 6.1 1.3 6.1 .2 25-1.4 8.4-.9 9.4-1.6 21.1-5 7.2-1.2 3.9-.3 9.5 1.1 13.9 3.3 13.8 2.8 4.5 .6 18.3-.7 21.7-1.8 16.6-2.1 9.5-.4 8.9 .6 20 2 16.6 1 2.2 .8 4.5 2.4 2.8 .6 11.1-.4 6.1-1.4 2.2-.9 3.9-4.4 3.9-2 1.6 0 3.4 3.4 1.1 .3 4.4-2.9 7.8-1.1 1.7-1.3 3.9-6.1 6.1-12.2 3.3-8.4 5.6-18.5 2.7-11.7 1.7-10.3 6.1-50.4 2.2-24.4 1.1-4.5 1.1-2 1.2 1.1 1.6 3.2 .6 .2 .5-.7 1.7-6.3 1.7-14.3 .5 1.3 1.7 23.6 1.1 8.4 .6 1.1 3.3 1.2 .5 1.3 2.8 31.2 3.4 47.4 1.6 14.8 3.9 20.9 2.2 5.4 3.4 4.3 2.2 1.4 9.4 .1 5.6 1.6 1.6 1.3 3.4 4.7 3.3 2 2.8 1 10.5-.5 1.2-.8 2.7-3 1.1-.6 1.7 .5 2.8 2.2 1.6 .7 1.2-.3 3.8-2.2 1.7 .1 3.9 1.2 1.7 0 5-2.5 4.4-3.6 1.7-.6 1.1 .4 2.8 4.8 1.1 1.1 8.9 .7 15 2.2 3.8 1 7.8 2.9 3.9 .9 2.8 .1 13.3-1.2 19.5-2.4" stroke="#000080"/>
</g>
<rect x="289.0" y="4701.7" width="9.2" height="22" fill="#000"/>
<text x="295.1" y="4797.5" font-size="74.2848" text-anchor="middle" font-family="Liberation Serif, serif" font-weight="bold" style="font-kerning:none">1000</text>
<rect x="566.7" y="4701.7" width="9.2" height="22" fill="#000"/>
<text x="572.8" y="4797.5" font-size="74.2848" text-anchor="middle" font-family="Liberation Serif, serif" font-weight="bold" style="font-kerning:none">1500</text>
<rect x="844.4" y="4701.7" width="9.2" height="22" fill="#000"/>
<text x="850.5" y="4797.5" font-size="74.2848" text-anchor="middle" font-family="Liberation Serif, serif" font-weight="bold" style="font-kerning:none">2000</text>
<rect x="1122.1" y="4701.7" width="9.2" height="22" fill="#000"/>
<text x="1128.2" y="4797.5" font-size="74.2848" text-anchor="middle" font-family="Liberation Serif, serif" font-weight="bold" style="font-kerning:none">2500</text>
<rect x="1399.8" y="4701.7" width="9.2" height="22" fill="#000"/>
<text x="1405.9" y="4797.5" font-size="74.2848" text-anchor="middle" font-family="Liberation Serif, serif" font-weight="bold" style="font-kerning:none">3000</text>
<rect x="1677.5" y="4701.7" width="9.2" height="22" fill="#000"/>
<text x="1683.6" y="4797.5" font-size="74.2848" text-anchor="middle" font-family="Liberation Serif, serif" font-weight="bold" style="font-kerning:none">3500</text>
<rect x="1955.2" y="4701.7" width="9.2" height="22" fill="#000"/>
<text x="1961.3" y="4797.5" font-size="74.2848" text-anchor="middle" font-family="Liberation Serif, serif" font-weight="bold" style="font-kerning:none">4000</text>
<rect x="427.9" y="4701.7" width="9.2" height="10" fill="#000"/>
<rect x="705.6" y="4701.7" width="9.2" height="10" fill="#000"/>
<rect x="983.2" y="4701.7" width="9.2" height="10" fill="#000"/>
<rect x="1261.0" y="4701.7" width="9.2" height="10" fill="#000"/>
<rect x="1538.7" y="4701.7" width="9.2" height="10" fill="#000"/>
<rect x="1816.3" y="4701.7" width="9.2" height="10" fill="#000"/>
<text x="771.9" y="4911.0" font-size="96.7" font-family="Liberation Serif, serif" font-weight="bold" style="font-kerning:none" textLength="556.4" lengthAdjust="spacing">Wavenumber</text>
<text x="1350.7 1382.4 1424.2" y="4911.0" font-size="96.7" font-family="Liberation Serif, serif" font-weight="bold" style="font-kerning:none">(cm</text>
<text x="1503.0" y="4870.7" font-size="63.1" font-family="Liberation Serif, serif" font-weight="bold" style="font-kerning:none" textLength="53.9" lengthAdjust="spacing">-1</text>
<text x="1557.0" y="4911.0" font-size="96.7" font-family="Liberation Serif, serif" font-weight="bold" style="font-kerning:none" textLength="32.2" lengthAdjust="spacing">)</text>
<text transform="translate(144.6,4038.6) rotate(-90)" font-size="96.67200000000001" text-anchor="middle" font-family="Liberation Serif, serif" font-weight="bold" style="font-kerning:none" textLength="484" lengthAdjust="spacing">Absorbance</text>
<text x="41" y="3376.5" font-size="95.65440000000001" font-family="Liberation Serif, serif" font-weight="bold" style="font-kerning:none" textLength="133" lengthAdjust="spacing">(C)</text>
<line x1="748.1" y1="3382.0" x2="887.9" y2="3382.0" stroke="#000000" stroke-width="9.2" stroke-linecap="round"/>
<text x="903.5" y="3405.0" font-size="64.1088" font-family="Liberation Serif, serif" font-weight="bold" style="font-kerning:none" textLength="337.95099999999996" lengthAdjust="spacing">Dark 40 min</text>
<line x1="748.1" y1="3461.2" x2="887.9" y2="3461.2" stroke="#ff0000" stroke-width="9.2" stroke-linecap="round"/>
<text x="903.5" y="3484.2" font-size="64.1088" font-family="Liberation Serif, serif" font-weight="bold" style="font-kerning:none" textLength="306.29999999999995" lengthAdjust="spacing">Light 1 min</text>
<line x1="748.1" y1="3540.4" x2="887.9" y2="3540.4" stroke="#0000ff" stroke-width="9.2" stroke-linecap="round"/>
<text x="903.5" y="3563.4" font-size="64.1088" font-family="Liberation Serif, serif" font-weight="bold" style="font-kerning:none" textLength="342.03499999999997" lengthAdjust="spacing">Light 60 min</text>
<line x1="748.1" y1="3619.6" x2="887.9" y2="3619.6" stroke="#ff00ff" stroke-width="9.2" stroke-linecap="round"/>
<text x="903.5" y="3642.6" font-size="64.1088" font-family="Liberation Serif, serif" font-weight="bold" style="font-kerning:none" textLength="375.72799999999995" lengthAdjust="spacing">Light 120 min</text>
<line x1="748.1" y1="3698.8" x2="887.9" y2="3698.8" stroke="#008000" stroke-width="9.2" stroke-linecap="round"/>
<text x="903.5" y="3721.8" font-size="64.1088" font-family="Liberation Serif, serif" font-weight="bold" style="font-kerning:none" textLength="375.72799999999995" lengthAdjust="spacing">Light 180 min</text>
<line x1="748.1" y1="3778.0" x2="887.9" y2="3778.0" stroke="#000080" stroke-width="9.2" stroke-linecap="round"/>
<text x="903.5" y="3801.0" font-size="64.1088" font-family="Liberation Serif, serif" font-weight="bold" style="font-kerning:none" textLength="375.72799999999995" lengthAdjust="spacing">Light 240 min</text>
<text x="778.5" y="3920.5" font-size="58.00320000000001" font-family="Liberation Serif, serif" font-weight="bold" style="font-kerning:none" textLength="242" lengthAdjust="spacing">CH<tspan font-size="41.8" dy="15.7">3</tspan><tspan dy="-15.7">CHO</tspan></text>
<line x1="820" y1="3940.3" x2="736.7" y2="4066.9" stroke="#f00" stroke-width="13" stroke-linecap="butt"/>
<polygon points="704.7,4113.2 728.5,4049.8 756.0,4068.3" fill="#f00" stroke="#f00" stroke-width="11" stroke-linejoin="round"/>
</svg></body></html>
